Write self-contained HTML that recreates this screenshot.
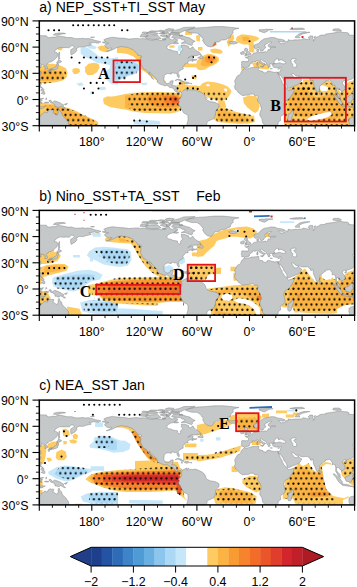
<!DOCTYPE html>
<html><head><meta charset="utf-8"><style>
html,body{margin:0;padding:0;background:#fff;}
body{width:357px;height:587px;overflow:hidden;}
svg{display:block;}
.ax{font-family:"Liberation Sans",sans-serif;font-size:12.4px;fill:#000;}
.tt{font-family:"Liberation Sans",sans-serif;font-size:14px;fill:#000;}
.cb{font-family:"Liberation Sans",sans-serif;font-size:12.4px;fill:#000;}
.lb{font-family:"Liberation Serif",serif;font-weight:bold;font-size:16px;fill:#000;}
</style></head><body>
<svg width="357" height="587" viewBox="0 0 357 587">
<defs><clipPath id="clip0"><rect x="39.3" y="20.9" width="315.3" height="104.8"/></clipPath><clipPath id="clip1"><rect x="39.3" y="210.4" width="315.3" height="104.8"/></clipPath><clipPath id="clip2"><rect x="39.3" y="400.1" width="315.3" height="104.8"/></clipPath><g id="land"><path d="M102.5,12.0L104.2,11.0L108.6,11.4L109.0,12.2L106.0,12.8L102.5,12.0ZM109.5,10.8L112.1,9.9L118.2,10.1L116.5,11.1L112.1,11.2L109.5,10.8ZM118.2,10.3L120.9,9.3L124.4,9.6L126.1,10.2L123.5,10.8L120.0,10.7L118.2,10.3ZM122.6,11.4L125.2,10.9L128.7,11.4L129.6,12.2L126.1,12.8L122.6,12.4L122.6,11.4ZM139.7,14.7L142.8,14.1L143.6,14.8L141.0,15.3L139.7,14.7ZM122.6,17.9L126.1,17.6L126.1,18.8L123.5,18.9L122.6,17.9ZM63.0,21.3L66.6,20.7L64.4,19.0L67.0,17.7L70.1,16.9L72.9,16.3L77.1,16.8L80.6,17.2L85.0,17.4L86.7,17.7L89.3,18.2L92.0,17.9L93.7,17.8L96.8,17.5L99.0,17.6L101.2,18.0L104.2,17.6L107.7,18.3L110.4,19.0L113.9,19.2L117.4,18.5L121.7,19.4L124.4,19.0L126.1,18.8L127.0,16.2L129.6,16.2L130.9,18.3L133.1,19.0L135.3,17.6L138.4,18.8L137.9,20.5L135.8,20.5L134.9,22.3L133.1,22.7L130.9,23.1L128.3,24.9L127.4,26.6L127.9,27.3L129.2,28.6L131.4,28.8L133.6,29.9L135.8,30.3L138.1,30.6L138.4,32.3L139.7,33.6L141.0,33.6L141.3,32.3L141.0,31.0L142.8,29.7L143.2,27.9L141.9,26.6L142.3,25.3L141.9,24.1L145.4,24.1L147.6,24.9L149.3,25.5L149.3,27.1L151.1,27.7L152.4,26.6L153.7,25.9L154.6,27.5L156.3,29.3L157.7,30.1L159.8,31.4L161.3,32.8L161.2,33.6L159.4,33.9L157.7,34.8L155.0,34.8L152.0,34.8L149.8,36.2L148.5,37.4L150.2,36.2L151.5,35.7L153.7,35.8L154.0,36.2L153.3,36.7L153.5,37.6L153.9,38.3L155.0,38.6L156.6,38.8L157.7,38.4L156.9,39.1L154.6,39.7L152.8,40.5L152.2,39.9L153.7,39.0L152.4,39.1L151.5,39.6L150.2,40.0L148.9,40.4L148.3,41.2L148.4,42.0L149.0,42.1L148.9,42.3L147.6,42.4L145.8,42.8L145.4,43.2L145.2,44.1L144.5,44.7L144.1,45.4L143.6,46.1L143.8,47.2L144.1,47.9L143.2,48.3L141.9,49.0L140.8,49.6L139.7,50.4L139.0,51.5L139.0,52.6L139.7,54.0L140.1,55.5L139.9,56.5L139.3,56.7L138.6,56.1L138.2,55.2L137.7,54.1L137.8,53.3L137.1,52.5L136.2,52.4L135.4,52.7L134.4,52.1L133.1,52.0L131.8,52.1L132.1,53.2L130.9,53.1L129.6,52.7L127.9,52.7L127.0,53.1L125.7,53.9L125.0,54.7L124.9,55.9L124.6,57.6L124.6,59.4L125.1,60.7L125.9,61.8L127.0,62.4L127.9,62.7L129.2,62.4L130.1,62.2L130.8,61.3L131.0,60.3L132.7,59.8L134.0,59.8L133.7,61.1L133.4,62.4L132.9,63.8L132.5,64.7L133.6,64.8L135.3,64.7L136.6,65.2L137.2,65.9L137.1,67.7L136.9,69.0L137.5,69.9L138.4,70.6L139.3,70.9L140.6,70.3L141.9,70.6L142.5,71.2L143.6,70.3L144.1,69.4L145.4,68.8L146.7,68.3L147.6,67.8L147.8,69.0L147.3,69.4L148.0,70.3L148.5,68.7L148.9,68.1L150.6,69.4L152.4,69.3L154.1,69.4L155.9,69.0L156.8,69.2L158.5,69.9L160.3,70.7L162.9,72.0L165.1,73.8L166.4,76.4L166.8,78.2L168.2,79.5L171.2,80.8L174.3,81.2L176.5,81.8L179.4,83.3L179.7,85.1L179.4,86.9L177.8,88.2L176.5,90.0L176.0,93.9L175.2,96.1L174.3,97.8L172.5,98.7L170.8,99.3L169.0,100.0L167.7,101.7L167.5,103.5L166.4,104.8L165.5,106.1L164.7,107.4L163.8,108.3L162.9,109.2L159.4,110.0L147.1,110.0L147.4,107.4L147.6,106.5L147.8,104.8L147.6,103.1L148.5,100.4L148.7,98.7L148.7,96.1L148.6,94.6L147.6,93.7L144.5,92.1L143.4,90.4L142.3,88.6L141.0,85.6L139.3,83.8L139.1,82.5L139.9,81.6L140.1,80.6L139.3,79.5L140.1,77.9L141.1,77.3L142.3,75.1L142.5,72.9L141.9,72.0L141.0,70.7L140.1,72.0L139.3,71.6L137.5,71.4L135.2,69.9L135.1,69.0L133.6,67.2L131.8,66.8L130.1,66.4L128.7,65.1L127.4,64.5L125.7,64.9L123.9,64.4L121.7,63.5L119.6,62.6L117.8,61.1L118.1,59.8L117.4,58.5L115.6,56.8L114.5,55.5L113.0,54.1L111.7,52.4L109.7,50.9L110.1,52.4L112.1,55.5L113.7,57.6L114.3,58.5L113.6,58.1L112.1,56.8L111.9,55.2L109.9,54.1L109.0,52.4L107.6,50.2L106.4,48.9L104.6,48.5L103.4,46.6L102.9,45.6L101.8,43.8L101.2,41.9L101.6,38.4L101.0,36.3L102.5,36.2L102.0,34.9L98.5,34.5L98.1,33.2L95.9,31.0L93.7,28.8L91.1,27.7L88.0,26.4L85.0,26.2L81.9,25.5L79.7,26.2L77.5,26.6L75.3,27.9L73.1,29.0L70.1,30.1L67.0,30.7L69.2,29.7L71.8,28.2L72.7,27.2L68.3,27.5L66.1,25.8L65.2,24.5L66.1,23.4L69.2,22.3L67.0,22.3L64.4,22.1L63.0,21.3ZM146.3,10.2L150.6,8.3L157.7,7.0L166.4,6.5L175.2,5.7L183.9,5.7L191.8,6.5L199.7,7.4L194.4,8.7L193.6,10.5L194.0,11.8L192.7,13.1L191.4,14.4L190.9,16.6L188.3,17.5L186.6,18.8L182.2,19.2L179.5,21.0L176.9,21.2L175.2,21.8L174.3,23.6L173.0,25.3L171.7,26.2L170.3,25.8L168.2,25.3L166.4,24.0L165.1,22.7L164.2,21.0L163.3,19.6L164.2,17.9L162.9,17.0L162.0,15.7L160.7,14.0L157.7,12.2L152.4,12.1L149.8,11.4L146.3,10.2ZM140.1,14.2L143.6,15.0L147.1,16.2L150.6,17.0L151.5,17.9L154.1,19.6L155.9,20.3L154.1,21.4L152.8,22.0L153.3,23.6L152.4,24.5L150.6,24.0L148.0,23.1L146.3,22.3L144.5,22.3L141.9,22.4L143.6,21.4L145.8,20.5L145.4,19.2L142.8,18.8L141.0,17.5L136.6,17.2L132.3,16.6L134.0,14.3L140.1,14.2ZM106.0,15.9L107.3,14.8L112.1,14.8L117.4,14.4L118.7,14.8L121.7,17.5L118.2,18.2L113.9,18.5L109.5,18.1L106.9,17.5L106.0,15.9ZM100.7,15.9L102.0,13.5L107.3,13.8L109.0,14.6L106.0,16.2L100.7,15.9ZM131.4,11.8L133.1,10.0L140.1,8.3L144.5,6.5L155.9,6.2L154.1,7.4L148.9,8.7L144.5,10.0L141.9,11.4L138.4,12.1L131.4,11.8ZM127.0,10.5L126.1,8.7L129.6,7.7L134.9,8.3L133.1,10.0L127.0,10.5ZM129.6,12.8L133.1,11.8L140.1,12.1L140.1,13.5L129.6,13.5L129.6,12.8ZM107.3,13.1L108.6,11.5L113.0,11.7L117.4,12.0L119.1,12.7L117.4,13.5L112.1,13.7L107.3,13.1ZM120.9,14.8L122.6,14.0L127.0,14.0L127.9,15.7L125.2,16.2L120.9,14.8ZM127.0,14.1L131.4,13.8L130.5,15.7L127.9,15.9L127.0,14.1ZM120.0,12.7L121.7,11.8L125.2,11.8L125.2,13.1L120.0,12.7ZM134.9,22.7L135.8,21.1L139.3,22.3L137.5,22.9L134.9,22.7ZM158.3,37.0L161.2,35.4L161.6,33.5L163.3,35.5L164.0,37.1L163.3,37.8L161.6,37.6L158.3,37.0ZM135.8,59.6L137.5,58.6L139.3,58.3L141.9,59.1L143.6,60.3L145.2,61.0L144.1,61.2L142.1,61.2L141.9,60.5L140.1,59.6L138.4,58.9L136.6,59.5L135.8,59.6ZM145.0,62.5L146.4,61.2L148.9,61.4L150.4,62.4L148.9,62.7L147.6,63.2L145.0,62.5ZM141.6,62.5L143.5,62.7L142.9,63.1L141.6,62.5ZM151.3,62.4L152.7,62.6L151.3,63.0ZM190.9,22.7L189.2,21.4L190.9,20.6L196.2,20.5L197.5,21.4L198.4,21.8L197.1,22.5L194.4,23.2L191.8,22.9L190.9,22.7ZM205.2,34.9L207.6,34.4L211.1,34.1L211.7,32.6L210.4,31.9L209.3,31.0L208.4,29.8L208.0,29.3L208.6,28.4L207.3,27.4L205.8,27.4L205.2,28.4L205.1,29.4L205.8,30.1L207.6,30.7L207.2,31.4L207.6,32.1L206.3,32.1L206.5,32.9L205.6,33.4L207.6,33.7L205.2,34.9ZM204.9,33.2L204.9,31.9L205.3,30.9L203.6,30.3L202.8,31.0L201.4,31.4L201.4,33.2L201.9,33.6L204.9,33.2ZM-112.9,46.3L-112.8,44.8L-113.4,44.1L-112.8,42.4L-113.2,41.0L-112.1,40.4L-109.5,40.6L-106.7,40.7L-106.2,39.7L-106.2,38.4L-107.0,37.4L-109.0,36.8L-109.2,36.2L-107.7,36.0L-106.5,36.2L-106.5,35.3L-105.1,35.5L-103.8,34.8L-102.9,34.0L-102.0,33.6L-101.6,33.2L-101.0,32.3L-100.3,32.0L-99.0,31.9L-97.7,31.8L-97.5,30.6L-98.0,29.3L-97.6,28.7L-95.9,28.2L-96.1,29.3L-95.6,29.7L-96.3,30.6L-95.5,31.4L-94.2,31.1L-92.8,31.4L-91.1,31.2L-88.9,30.7L-88.0,31.1L-86.7,30.1L-86.7,29.0L-85.8,28.4L-84.5,28.8L-83.8,28.1L-84.5,27.5L-84.5,26.9L-82.3,26.5L-80.6,26.6L-78.8,26.3L-80.6,25.8L-83.2,26.0L-85.4,26.2L-86.4,25.3L-86.3,24.0L-85.4,23.1L-83.2,21.8L-82.8,21.3L-84.1,21.1L-85.8,21.4L-86.7,22.3L-88.5,23.1L-89.8,24.0L-90.0,25.3L-88.6,26.2L-89.3,27.1L-90.6,28.4L-91.3,29.6L-92.7,30.2L-93.9,30.0L-94.2,29.3L-95.0,27.9L-95.5,27.1L-95.9,26.6L-96.8,27.1L-98.1,27.9L-99.4,27.9L-100.3,27.1L-100.7,25.8L-100.7,24.5L-99.8,24.0L-98.1,23.3L-96.3,22.7L-94.6,21.4L-93.7,20.1L-92.4,19.2L-91.1,18.3L-89.3,17.6L-87.6,17.5L-85.8,17.2L-84.1,16.6L-82.3,16.6L-80.6,16.6L-78.8,17.2L-77.9,17.6L-76.2,18.1L-73.6,18.3L-70.1,19.4L-69.2,20.5L-71.8,21.0L-74.9,20.7L-76.2,20.3L-74.6,22.3L-72.7,22.9L-71.8,22.3L-69.6,22.2L-68.3,20.5L-66.6,20.8L-66.4,18.8L-64.8,19.2L-63.1,19.5L-61.3,19.2L-58.7,18.9L-57.4,19.0L-55.2,18.8L-53.4,18.9L-52.1,18.3L-51.7,17.6L-49.0,18.1L-46.4,18.8L-44.7,18.5L-46.4,17.0L-46.0,16.2L-44.7,15.0L-42.0,15.0L-41.6,16.2L-42.0,17.5L-40.7,19.0L-41.6,20.3L-39.9,19.2L-39.9,17.9L-40.7,16.3L-39.4,15.3L-38.1,16.4L-35.9,15.5L-34.6,14.4L-31.5,14.1L-28.9,14.0L-28.9,13.1L-21.9,12.2L-17.5,11.4L-13.8,10.7L-12.3,11.4L-7.0,11.8L-5.7,12.7L-6.1,14.0L-1.8,14.4L2.6,14.8L7.0,14.8L7.9,16.2L9.6,16.8L13.1,16.2L16.6,16.2L18.4,15.0L22.8,15.5L26.3,16.2L28.0,16.7L32.4,16.6L35.0,17.5L37.7,17.8L41.2,17.6L43.8,17.4L45.5,17.9L49.0,17.6L52.6,18.4L56.1,19.6L58.7,20.1L60.4,20.5L61.6,20.9L60.4,21.4L59.1,22.3L56.9,22.0L55.2,21.6L53.4,21.8L51.7,22.3L49.9,22.1L51.2,23.6L52.1,24.0L48.2,24.9L46.0,25.5L44.2,26.2L40.3,26.2L38.5,26.4L37.9,27.5L36.8,27.9L37.7,29.3L36.8,30.6L35.0,32.3L33.7,32.8L32.1,34.1L31.5,32.8L31.3,30.6L31.5,28.8L33.3,27.9L35.0,26.2L34.2,24.9L32.0,24.9L29.8,26.9L27.2,26.6L24.5,26.8L21.9,26.7L20.3,26.7L18.4,27.5L15.9,29.3L14.9,31.0L16.6,31.3L18.1,32.2L18.7,33.2L18.0,34.9L17.8,36.2L16.2,37.6L14.0,39.7L11.4,41.2L10.4,41.0L9.4,41.7L8.6,42.8L7.0,43.7L6.6,44.2L7.9,45.9L8.2,47.2L7.9,47.9L6.6,48.3L5.5,48.4L5.7,47.2L6.0,45.9L4.8,45.4L4.4,44.1L3.8,43.8L1.8,44.5L1.1,44.7L1.9,43.2L0.9,42.9L-0.4,43.8L-1.8,44.4L-2.0,45.0L-1.1,45.9L-0.8,46.1L0.6,45.6L2.2,45.9L0.9,46.7L0.0,47.6L-0.7,48.5L0.3,49.8L1.3,50.7L1.7,51.6L1.3,52.4L1.8,52.8L1.1,54.1L0.0,55.5L-0.4,56.3L-1.3,57.2L-2.6,58.1L-4.4,58.7L-5.7,59.2L-7.9,59.8L-8.4,60.9L-8.9,59.8L-10.5,59.8L-11.8,61.1L-12.4,62.0L-11.7,63.3L-10.1,65.1L-9.4,67.2L-9.5,68.6L-10.9,69.4L-11.8,70.3L-13.1,71.1L-13.3,69.9L-14.9,69.0L-15.3,67.7L-16.6,67.5L-17.5,66.9L-18.2,69.0L-18.0,70.3L-17.3,71.6L-17.1,72.5L-16.2,72.7L-15.3,73.4L-14.5,74.7L-14.5,76.2L-13.8,77.4L-14.5,77.5L-16.2,76.2L-17.1,74.7L-17.3,73.5L-18.7,71.6L-19.0,70.3L-18.8,67.7L-19.5,64.6L-21.0,64.2L-22.5,64.6L-22.3,62.4L-23.6,60.7L-24.3,59.8L-24.7,58.9L-25.8,59.4L-27.2,59.6L-28.9,59.8L-29.3,61.1L-31.1,62.0L-32.8,63.8L-34.8,65.1L-34.9,67.2L-35.2,69.6L-36.5,70.9L-37.2,71.5L-38.1,70.7L-39.0,68.6L-39.8,66.4L-40.7,64.6L-41.3,62.0L-41.5,60.0L-41.6,59.1L-43.4,60.3L-44.7,59.1L-43.8,58.7L-45.1,58.1L-46.2,57.2L-46.9,56.4L-49.0,56.5L-51.2,56.6L-54.3,56.2L-54.9,55.5L-55.6,54.9L-57.8,55.3L-59.6,54.3L-60.9,52.8L-62.6,52.4L-63.1,52.8L-62.2,54.6L-61.2,55.7L-60.6,56.9L-60.0,57.4L-58.2,57.6L-56.5,56.3L-55.8,55.7L-55.7,56.9L-54.5,57.9L-52.7,58.9L-53.9,60.7L-54.5,62.0L-55.6,62.9L-56.9,63.8L-59.6,64.9L-62.2,65.9L-65.7,67.4L-67.0,67.5L-67.6,65.9L-67.9,64.2L-69.2,62.0L-70.9,59.8L-71.4,58.1L-72.7,56.3L-74.0,54.6L-74.6,53.4L-75.1,54.3L-75.8,53.7L-76.6,52.4L-76.8,51.4L-75.1,51.3L-74.4,50.0L-74.0,48.9L-73.7,47.6L-73.4,46.6L-74.9,46.5L-76.6,47.1L-78.4,46.9L-79.7,46.7L-81.0,46.3L-81.9,45.2L-81.9,44.1L-82.2,43.6L-81.5,43.1L-79.6,42.7L-77.9,42.7L-76.2,42.1L-74.4,41.9L-73.6,42.5L-71.8,42.9L-70.1,42.8L-68.8,42.4L-68.7,41.5L-70.1,40.6L-71.8,39.7L-72.7,39.1L-74.0,39.0L-75.8,39.7L-76.6,39.0L-75.8,38.4L-77.5,37.9L-78.4,38.0L-79.1,39.0L-80.1,40.2L-80.6,41.5L-79.8,42.5L-82.2,43.2L-84.1,43.1L-85.0,43.2L-85.3,43.3L-85.0,44.5L-84.1,45.2L-84.8,45.4L-85.4,46.7L-86.1,46.5L-86.5,45.4L-87.0,44.5L-88.0,43.2L-88.1,42.1L-88.9,41.5L-90.6,40.6L-92.0,39.7L-92.8,39.1L-93.2,38.7L-94.3,39.1L-94.2,40.2L-93.2,40.6L-92.0,41.9L-91.1,42.4L-89.3,43.1L-88.9,43.6L-90.0,43.3L-90.6,44.1L-90.1,44.5L-91.1,45.4L-91.3,45.4L-91.3,44.1L-92.0,43.5L-92.8,43.0L-94.2,42.4L-95.5,41.5L-95.9,40.4L-97.2,39.8L-98.5,40.3L-99.8,41.0L-101.2,40.6L-102.5,40.9L-102.3,41.9L-103.3,42.5L-104.4,43.0L-105.1,44.1L-105.4,45.0L-104.9,44.8L-105.7,45.8L-106.9,46.5L-109.0,46.5L-110.0,47.2L-110.6,46.6L-111.6,46.1L-112.9,46.3ZM202.4,46.3L202.5,44.8L201.9,44.1L202.5,42.4L202.1,41.0L203.2,40.4L205.8,40.6L208.6,40.7L209.1,39.7L209.1,38.4L208.3,37.4L206.3,36.8L206.1,36.2L207.6,36.0L208.8,36.2L208.8,35.3L210.2,35.5L211.5,34.8L212.4,34.0L213.3,33.6L213.7,33.2L214.3,32.3L215.0,32.0L216.3,31.9L217.6,31.8L217.8,30.6L217.3,29.3L217.7,28.7L219.4,28.2L219.2,29.3L219.7,29.7L219.0,30.6L219.8,31.4L221.1,31.1L222.5,31.4L224.2,31.2L226.4,30.7L227.3,31.1L228.6,30.1L228.6,29.0L229.5,28.4L230.8,28.8L231.5,28.1L230.8,27.5L230.8,26.9L233.0,26.5L234.7,26.6L236.5,26.3L234.7,25.8L232.1,26.0L229.9,26.2L228.9,25.3L229.0,24.0L229.9,23.1L232.1,21.8L232.5,21.3L231.2,21.1L229.5,21.4L228.6,22.3L226.8,23.1L225.5,24.0L225.3,25.3L226.7,26.2L226.0,27.1L224.7,28.4L224.0,29.6L222.6,30.2L221.4,30.0L221.1,29.3L220.3,27.9L219.8,27.1L219.4,26.6L218.5,27.1L217.2,27.9L215.9,27.9L215.0,27.1L214.6,25.8L214.6,24.5L215.5,24.0L217.2,23.3L219.0,22.7L220.7,21.4L221.6,20.1L222.9,19.2L224.2,18.3L226.0,17.6L227.7,17.5L229.5,17.2L231.2,16.6L233.0,16.6L234.7,16.6L236.5,17.2L237.4,17.6L239.1,18.1L241.7,18.3L245.2,19.4L246.1,20.5L243.5,21.0L240.4,20.7L239.1,20.3L240.7,22.3L242.6,22.9L243.5,22.3L245.7,22.2L247.0,20.5L248.7,20.8L248.9,18.8L250.5,19.2L252.2,19.5L254.0,19.2L256.6,18.9L257.9,19.0L260.1,18.8L261.9,18.9L263.2,18.3L263.6,17.6L266.3,18.1L268.9,18.8L270.6,18.5L268.9,17.0L269.3,16.2L270.6,15.0L273.3,15.0L273.7,16.2L273.3,17.5L274.6,19.0L273.7,20.3L275.4,19.2L275.4,17.9L274.6,16.3L275.9,15.3L277.2,16.4L279.4,15.5L280.7,14.4L283.8,14.1L286.4,14.0L286.4,13.1L293.4,12.2L297.8,11.4L301.5,10.7L303.0,11.4L308.3,11.8L309.6,12.7L309.2,14.0L313.5,14.4L317.9,14.8L322.3,14.8L323.2,16.2L324.9,16.8L328.4,16.2L331.9,16.2L333.7,15.0L338.1,15.5L341.6,16.2L343.3,16.7L347.7,16.6L350.3,17.5L353.0,17.8L356.5,17.6L359.1,17.4L360.8,17.9L364.3,17.6L367.9,18.4L371.4,19.6L374.0,20.1L375.7,20.5L376.9,20.9L375.7,21.4L374.4,22.3L372.2,22.0L370.5,21.6L368.7,21.8L367.0,22.3L365.2,22.1L366.5,23.6L367.4,24.0L363.5,24.9L361.3,25.5L359.5,26.2L355.6,26.2L353.8,26.4L353.2,27.5L352.1,27.9L353.0,29.3L352.1,30.6L350.3,32.3L349.0,32.8L347.4,34.1L346.8,32.8L346.6,30.6L346.8,28.8L348.6,27.9L350.3,26.2L349.5,24.9L347.3,24.9L345.1,26.9L342.5,26.6L339.8,26.8L337.2,26.7L335.6,26.7L333.7,27.5L331.2,29.3L330.2,31.0L331.9,31.3L333.4,32.2L334.0,33.2L333.3,34.9L333.1,36.2L331.5,37.6L329.3,39.7L326.7,41.2L325.7,41.0L324.7,41.7L323.9,42.8L322.3,43.7L321.9,44.2L323.2,45.9L323.5,47.2L323.2,47.9L321.9,48.3L320.8,48.4L321.0,47.2L321.3,45.9L320.1,45.4L319.7,44.1L319.1,43.8L317.1,44.5L316.4,44.7L317.2,43.2L316.2,42.9L314.9,43.8L313.5,44.4L313.3,45.0L314.2,45.9L314.5,46.1L315.9,45.6L317.5,45.9L316.2,46.7L315.3,47.6L314.6,48.5L315.6,49.8L316.6,50.7L317.0,51.6L316.6,52.4L317.1,52.8L316.4,54.1L315.3,55.5L314.9,56.3L314.0,57.2L312.7,58.1L310.9,58.7L309.6,59.2L307.4,59.8L306.9,60.9L306.4,59.8L304.8,59.8L303.5,61.1L302.9,62.0L303.6,63.3L305.2,65.1L305.9,67.2L305.8,68.6L304.4,69.4L303.5,70.3L302.2,71.1L302.0,69.9L300.4,69.0L300.0,67.7L298.7,67.5L297.8,66.9L297.1,69.0L297.3,70.3L298.0,71.6L298.2,72.5L299.1,72.7L300.0,73.4L300.8,74.7L300.8,76.2L301.5,77.4L300.8,77.5L299.1,76.2L298.2,74.7L298.0,73.5L296.6,71.6L296.3,70.3L296.5,67.7L295.8,64.6L294.3,64.2L292.8,64.6L293.0,62.4L291.7,60.7L291.0,59.8L290.6,58.9L289.5,59.4L288.1,59.6L286.4,59.8L286.0,61.1L284.2,62.0L282.5,63.8L280.5,65.1L280.4,67.2L280.1,69.6L278.8,70.9L278.1,71.5L277.2,70.7L276.3,68.6L275.5,66.4L274.6,64.6L274.0,62.0L273.8,60.0L273.7,59.1L271.9,60.3L270.6,59.1L271.5,58.7L270.2,58.1L269.1,57.2L268.4,56.4L266.3,56.5L264.1,56.6L261.0,56.2L260.4,55.5L259.7,54.9L257.5,55.3L255.7,54.3L254.4,52.8L252.7,52.4L252.2,52.8L253.1,54.6L254.1,55.7L254.7,56.9L255.3,57.4L257.1,57.6L258.8,56.3L259.5,55.7L259.6,56.9L260.8,57.9L262.6,58.9L261.4,60.7L260.8,62.0L259.7,62.9L258.4,63.8L255.7,64.9L253.1,65.9L249.6,67.4L248.3,67.5L247.7,65.9L247.4,64.2L246.1,62.0L244.4,59.8L243.9,58.1L242.6,56.3L241.3,54.6L240.7,53.4L240.2,54.3L239.5,53.7L238.7,52.4L238.5,51.4L240.2,51.3L240.9,50.0L241.3,48.9L241.6,47.6L241.9,46.6L240.4,46.5L238.7,47.1L236.9,46.9L235.6,46.7L234.3,46.3L233.4,45.2L233.4,44.1L233.1,43.6L233.8,43.1L235.7,42.7L237.4,42.7L239.1,42.1L240.9,41.9L241.7,42.5L243.5,42.9L245.2,42.8L246.5,42.4L246.6,41.5L245.2,40.6L243.5,39.7L242.6,39.1L241.3,39.0L239.5,39.7L238.7,39.0L239.5,38.4L237.8,37.9L236.9,38.0L236.2,39.0L235.2,40.2L234.7,41.5L235.5,42.5L233.1,43.2L231.2,43.1L230.3,43.2L230.0,43.3L230.3,44.5L231.2,45.2L230.5,45.4L229.9,46.7L229.2,46.5L228.8,45.4L228.3,44.5L227.3,43.2L227.2,42.1L226.4,41.5L224.7,40.6L223.3,39.7L222.5,39.1L222.1,38.7L221.0,39.1L221.1,40.2L222.1,40.6L223.3,41.9L224.2,42.4L226.0,43.1L226.4,43.6L225.3,43.3L224.7,44.1L225.2,44.5L224.2,45.4L224.0,45.4L224.0,44.1L223.3,43.5L222.5,43.0L221.1,42.4L219.8,41.5L219.4,40.4L218.1,39.8L216.8,40.3L215.5,41.0L214.1,40.6L212.8,40.9L213.0,41.9L212.0,42.5L210.9,43.0L210.2,44.1L209.9,45.0L210.4,44.8L209.6,45.8L208.4,46.5L206.3,46.5L205.3,47.2L204.7,46.6L203.7,46.1L202.4,46.3ZM238.7,52.4L238.8,52.5L239.5,54.1L240.0,55.2L240.9,57.2L241.7,58.9L242.8,60.3L242.9,62.0L243.9,63.1L244.6,64.8L246.1,66.2L247.4,67.2L248.1,67.8L247.9,68.6L249.2,69.5L250.5,69.3L252.2,68.8L255.0,68.3L254.9,69.5L254.4,70.7L253.6,72.5L252.2,74.7L250.5,76.9L248.3,79.0L247.0,79.5L245.7,80.8L244.8,82.5L244.2,84.3L244.8,85.6L245.2,87.8L245.7,89.5L245.7,91.7L244.4,93.4L242.2,95.0L240.9,96.1L241.3,97.8L241.3,99.6L239.1,100.9L238.9,102.2L238.7,103.5L237.8,104.4L236.9,105.7L235.6,107.0L233.8,108.3L227.7,109.2L226.0,108.3L226.0,107.0L225.5,104.8L224.7,103.5L223.5,102.2L222.9,99.6L222.8,98.2L221.8,96.5L220.5,94.3L220.5,93.0L221.1,90.4L222.2,88.2L221.8,86.5L221.0,83.8L220.7,83.0L219.8,81.9L218.5,80.3L218.1,79.0L218.5,77.7L218.8,76.2L218.5,75.1L217.9,74.7L216.3,74.8L215.3,74.8L214.6,73.8L214.1,73.1L212.4,73.1L211.1,73.4L209.3,74.2L208.4,74.4L206.7,74.1L203.6,74.8L202.3,74.2L200.6,72.9L199.3,72.0L198.6,71.2L198.4,70.3L197.1,69.2L195.7,68.1L195.5,66.8L194.9,65.8L195.7,64.6L196.0,62.9L195.7,61.6L195.3,60.3L195.9,58.9L196.6,57.6L197.5,55.9L198.6,54.5L200.1,54.0L201.4,52.8L201.7,51.5L202.8,49.6L204.2,48.9L204.9,47.3L205.8,47.8L208.4,47.9L210.2,47.3L212.0,46.7L214.6,46.5L216.8,46.3L219.0,46.0L219.8,46.3L219.4,47.2L219.8,47.9L219.0,48.7L219.8,49.5L221.6,50.0L223.5,50.4L223.8,51.5L226.0,52.0L227.7,51.5L227.7,50.5L229.0,50.0L230.3,50.1L232.1,50.8L233.8,51.2L235.6,51.6L237.4,51.1L238.5,51.4L238.7,52.4ZM253.4,89.1L254.4,92.1L253.8,93.4L252.7,96.1L251.8,99.6L251.4,100.4L249.6,100.9L248.7,100.0L248.3,97.8L249.0,96.1L248.7,93.4L250.9,92.4L252.2,90.8L253.4,89.1ZM280.1,73.2L280.8,73.4L281.8,72.2L281.4,71.2L280.4,70.0L280.0,71.6L280.1,73.2ZM9.5,48.9L10.5,49.1L13.1,48.4L13.6,49.3L14.7,48.7L16.5,48.4L17.3,48.0L18.2,47.4L18.4,45.9L18.8,45.2L19.3,44.1L18.7,42.4L17.5,43.0L17.4,44.1L17.1,45.0L16.2,45.9L14.9,46.3L14.5,46.7L14.0,47.4L11.8,47.6L10.1,48.4L9.5,48.9ZM8.6,49.3L9.8,49.1L10.4,49.8L10.0,51.2L9.3,51.5L8.9,50.2L8.6,49.3ZM10.9,49.8L11.8,49.4L12.9,49.1L12.5,48.6L11.4,48.8L10.9,49.8ZM17.5,42.4L18.6,42.1L20.3,41.9L22.3,40.8L21.9,40.2L19.3,38.9L18.8,39.9L18.7,40.8L17.9,40.8L17.5,41.5L17.5,42.4ZM19.3,38.4L20.6,37.7L20.1,35.8L20.3,34.5L20.1,33.2L20.3,31.3L19.8,31.2L19.4,33.2L19.1,34.9L19.3,37.1L19.2,38.4ZM0.2,58.9L0.9,59.5L1.7,57.2L1.3,56.5L0.4,57.2L0.1,58.5L0.2,58.9ZM305.4,61.8L307.0,61.0L307.4,61.5L306.5,62.6L305.7,62.4L305.4,61.8ZM0.4,62.4L2.0,62.4L1.8,63.8L1.4,64.8L1.9,66.4L3.5,67.2L3.1,67.4L1.3,66.5L0.5,66.1L0.0,64.6L0.4,62.4ZM315.7,62.4L317.3,62.4L317.1,63.8L316.7,64.8L317.2,66.4L318.8,67.2L318.4,67.4L316.6,66.5L315.8,66.1L315.3,64.6L315.7,62.4ZM1.8,72.5L3.1,71.6L4.8,70.3L5.7,72.0L5.3,73.4L4.6,73.5L3.5,72.9L1.8,72.5ZM1.8,68.6L3.9,67.7L4.8,69.0L4.4,69.9L2.6,70.5L1.8,69.4L1.8,68.6ZM312.8,71.3L314.9,68.6L315.0,69.4L313.1,71.4ZM305.7,77.1L306.5,77.1L307.4,76.2L309.2,75.8L310.0,74.6L311.4,73.8L312.5,72.5L313.3,73.4L314.4,74.2L313.5,74.8L313.4,76.9L314.4,77.7L313.1,78.6L312.5,79.9L312.0,81.7L310.5,82.1L309.2,81.4L307.9,81.2L306.7,81.1L306.5,79.9L305.7,78.6L305.7,77.1ZM293.7,73.7L295.6,74.1L298.0,76.4L300.8,78.6L301.7,80.2L303.0,81.5L302.9,83.7L301.7,83.8L299.8,82.1L298.2,79.9L296.6,77.2L295.2,75.7L293.7,73.7ZM302.3,84.5L303.5,83.8L305.1,84.1L307.0,84.3L308.7,84.6L310.5,85.4L310.4,86.2L307.4,85.8L304.8,85.4L303.0,85.1L302.3,84.5ZM-4.4,85.8L-0.9,85.8L1.8,85.8L4.4,85.8L6.1,85.8L4.4,86.7L3.5,87.5L1.8,87.8L-0.9,87.2L-2.6,86.5L-4.4,86.3L-4.4,85.8ZM310.9,85.8L314.4,85.8L317.1,85.8L319.7,85.8L321.4,85.8L319.7,86.7L318.8,87.5L317.1,87.8L314.4,87.2L312.7,86.5L310.9,86.3L310.9,85.8ZM-1.1,81.2L-0.4,83.4L0.4,83.5L0.7,81.0L2.2,82.8L2.6,82.1L1.3,79.9L3.1,79.3L2.2,78.9L0.4,78.2L4.4,77.3L3.9,77.9L0.0,78.0L-0.4,79.0L-1.1,81.2ZM314.2,81.2L314.9,83.4L315.7,83.5L316.0,81.0L317.5,82.8L317.9,82.1L316.6,79.9L318.4,79.3L317.5,78.9L315.7,78.2L319.7,77.3L319.2,77.9L315.3,78.0L314.9,79.0L314.2,81.2ZM6.6,79.0L7.4,78.2L7.0,76.9L6.6,77.3L6.6,79.0ZM5.3,81.5L7.0,81.1L9.6,81.5L8.8,81.9L5.3,81.8L5.3,81.5ZM9.6,79.7L11.4,79.2L13.1,81.5L15.3,79.9L18.4,80.9L21.9,82.5L22.8,83.4L24.1,83.8L24.1,85.6L26.3,87.6L24.5,87.5L23.2,86.3L21.0,85.4L20.1,86.5L18.4,86.5L17.1,85.8L15.8,85.9L15.6,83.8L13.1,82.4L11.8,82.1L10.5,81.0L9.6,79.7ZM25.0,83.4L26.3,83.0L28.0,82.3L27.6,83.4L26.3,84.1L25.0,83.4ZM-5.7,97.8L-5.1,97.6L-3.5,96.5L-0.9,96.1L0.9,95.6L2.0,93.4L3.1,93.0L4.4,91.7L5.7,90.8L7.0,91.7L8.3,91.5L8.8,90.0L9.6,89.3L11.0,88.6L11.8,89.1L14.0,89.1L14.7,89.3L13.6,91.5L14.5,92.1L16.8,93.8L18.2,93.9L18.9,91.7L18.8,89.5L19.7,87.9L20.6,90.4L22.2,91.7L22.8,93.9L24.1,95.5L25.4,96.9L27.0,98.2L27.6,99.6L28.9,100.9L29.4,103.5L28.9,105.7L28.5,107.0L27.6,108.3L26.3,110.0L-3.5,110.0L-4.4,108.3L-3.9,107.7L-4.4,106.1L-4.5,104.4L-5.7,101.7L-5.7,100.0L-5.4,98.7L-5.7,97.8ZM309.6,97.8L310.2,97.6L311.8,96.5L314.4,96.1L316.2,95.6L317.3,93.4L318.4,93.0L319.7,91.7L321.0,90.8L322.3,91.7L323.6,91.5L324.1,90.0L324.9,89.3L326.3,88.6L327.1,89.1L329.3,89.1L330.0,89.3L328.9,91.5L329.8,92.1L332.1,93.8L333.5,93.9L334.2,91.7L334.1,89.5L335.0,87.9L335.9,90.4L337.5,91.7L338.1,93.9L339.4,95.5L340.7,96.9L342.3,98.2L342.9,99.6L344.2,100.9L344.7,103.5L344.2,105.7L343.8,107.0L342.9,108.3L341.6,110.0L311.8,110.0L310.9,108.3L311.4,107.7L310.9,106.1L310.8,104.4L309.6,101.7L309.6,100.0L309.9,98.7L309.6,97.8ZM219.8,10.0L223.3,11.4L225.1,11.8L227.7,10.5L229.5,9.2L233.8,8.7L227.7,8.3L225.1,8.7L219.8,8.9L219.8,10.0ZM255.7,16.3L256.6,16.8L260.6,16.9L259.7,15.7L260.6,14.4L263.2,13.1L266.3,12.4L270.6,11.4L268.9,11.3L264.5,11.5L261.0,12.4L258.8,13.5L257.5,14.8L256.2,15.7L255.7,16.3ZM250.5,8.3L254.0,8.8L261.0,8.7L265.4,8.3L262.8,7.2L255.7,7.4L250.5,8.3ZM293.4,9.6L297.8,10.3L302.2,9.6L299.5,7.9L294.3,8.0L293.4,9.6ZM14.0,14.0L17.5,14.4L22.8,13.1L26.3,12.8L24.5,12.2L19.3,12.1L15.8,12.7L14.0,14.0ZM51.2,16.4L53.4,16.7L55.2,16.2L52.6,16.1L51.2,16.4ZM221.1,45.5L223.9,45.2L223.4,46.5L221.1,45.5ZM217.6,44.5L218.6,44.5L218.8,42.8L217.4,42.8L217.6,44.5ZM217.7,42.4L218.4,42.4L218.5,41.0L217.7,41.5ZM230.8,47.8L233.2,47.8L233.0,48.0L230.9,47.9ZM238.5,48.3L240.5,47.5L239.9,48.0L238.5,48.3Z" fill="#c4c8c9" stroke="#7d8080" stroke-width="0.45" stroke-linejoin="round"/><path d="M251.4,38.9L253.1,38.0L255.3,37.6L256.6,38.0L256.6,39.3L254.9,39.7L254.4,40.2L255.7,41.9L256.6,42.8L257.5,43.7L257.1,44.5L257.5,45.9L255.7,46.5L254.0,46.0L253.1,45.0L253.6,43.4L252.2,41.9L251.8,41.0L251.8,39.7L251.4,38.9Z" fill="#fff" stroke="#7d8080" stroke-width="0.45"/></g><pattern id="dots0" patternUnits="userSpaceOnUse" x="297.17" y="85.96" width="5.12" height="10.54"><circle cx="1.280" cy="2.635" r="1.1" fill="#000"/><circle cx="3.840" cy="7.905" r="1.1" fill="#000"/></pattern><pattern id="dots1" patternUnits="userSpaceOnUse" x="113.02" y="286.23" width="5.12" height="10.5"><circle cx="1.280" cy="2.625" r="1.1" fill="#000"/><circle cx="3.840" cy="7.875" r="1.1" fill="#000"/></pattern><pattern id="dots2" patternUnits="userSpaceOnUse" x="126.30" y="470.70" width="5.18" height="10.4"><circle cx="1.295" cy="2.600" r="1.1" fill="#000"/><circle cx="3.885" cy="7.800" r="1.1" fill="#000"/></pattern></defs>
<g clip-path="url(#clip0)">
<path d="M38.0,68.3L42.5,66.1L48.1,63.8L53.7,63.8L60.4,65.6L66.0,68.3L67.6,72.8L66.5,77.7L62.6,80.6L55.9,82.2L48.1,82.9L41.4,83.3L38.0,82.9Z" fill="#fecb62"/>
<path d="M38.0,71.0L44.7,70.1L53.7,70.5L61.5,71.7L64.4,75.0L61.5,79.1L53.7,80.6L44.7,81.3L38.0,80.6Z" fill="#fbb443"/>
<path d="M72.7,68.7L76.1,67.9L79.5,68.7L80.1,71.7L77.2,73.9L73.9,73.9L72.3,71.7Z" fill="#fecb62"/>
<path d="M85.1,67.2L88.4,63.8L94.0,62.7L98.5,63.8L99.6,67.2L97.4,71.7L92.9,75.0L87.3,75.0L85.1,71.7Z" fill="#fecb62"/>
<path d="M57.0,47.0L60.4,45.4L63.1,47.0L61.5,50.4L58.2,49.9Z" fill="#fecb62"/>
<path d="M97.4,47.0L101.9,45.4L107.5,47.0L109.7,50.4L105.2,52.2L99.6,50.4Z" fill="#fecb62"/>
<path d="M103.0,98.6L107.5,96.3L114.2,97.0L118.0,97.4L118.0,103.0L111.9,103.7L105.2,102.4Z" fill="#fecb62"/>
<path d="M38.0,103.7L42.5,102.4L51.4,103.7L60.4,105.9L69.4,108.2L77.2,111.5L85.1,116.0L94.0,119.4L98.1,122.1L99.0,128.8L38.0,128.8Z" fill="#fecb62"/>
<path d="M44.7,105.3L53.7,105.3L62.6,107.5L71.6,110.9L80.6,114.2L88.4,117.6L94.0,121.0L95.1,128.8L60.4,128.8Z" fill="#fbb443"/>
<path d="M80.6,48.1L86.2,47.0L91.8,50.4L98.5,56.0L105.2,58.2L111.9,58.2L118.0,57.1L118.0,63.8L109.7,64.9L103.0,63.8L96.3,62.7L90.7,59.3L85.1,57.1L80.6,53.7Z" fill="#c6e7f9"/>
<path d="M105.2,71.7L109.7,68.3L118.0,66.5L118.0,84.4L111.9,84.4L106.3,79.5Z" fill="#c6e7f9"/>
<path d="M86.2,45.4L91.8,44.8L96.7,47.0L95.1,49.3L89.5,48.6Z" fill="#c6e7f9"/>
<path d="M76.1,83.5L81.7,82.6L83.9,85.1L79.5,86.2Z" fill="#c6e7f9"/>
<path d="M90.0,91.8L93.6,91.2L94.0,94.1L90.7,94.5Z" fill="#c6e7f9"/>
<path d="M98.5,87.3L105.2,86.7L106.3,89.6L100.7,90.3Z" fill="#c6e7f9"/>
<path d="M116.9,53.1L120.0,53.1L126.7,53.7L133.5,56.4L136.8,59.8L139.3,65.6L141.8,69.9L146.9,73.2L151.8,76.6L156.1,80.0L160.4,83.3L163.7,84.9L166.2,81.7L160.6,77.3L153.9,72.8L148.3,68.7L144.9,63.8L142.6,58.2L139.3,52.6L134.8,47.7L128.1,45.4L116.9,44.8Z" fill="#fecb62"/>
<path d="M141.5,82.9L147.1,82.4L146.7,85.1L142.2,85.3Z" fill="#c6e7f9"/>
<path d="M133.7,120.3L144.9,119.8L159.5,121.0L160.6,124.3L144.9,124.8L133.7,123.9Z" fill="#c6e7f9"/>
<path d="M178.5,63.8L198.0,63.4L198.0,67.2L185.2,67.2L179.6,66.5Z" fill="#fecb62"/>
<path d="M178.5,81.7L185.2,81.7L185.2,86.2L179.0,85.8Z" fill="#fecb62"/>
<path d="M185.2,32.0L191.9,32.0L191.9,35.1L185.2,35.1Z" fill="#fecb62"/>
<path d="M110.0,61.0L122.0,59.8L130.0,60.2L136.0,61.5L139.5,64.0L139.5,70.0L135.0,74.0L128.0,76.0L121.0,79.5L117.0,81.5L110.0,81.5Z" fill="#c6e7f9"/>
<path d="M114.4,62.0L120.0,60.8L128.0,61.0L134.0,62.5L138.5,65.0L138.5,70.0L135.0,73.5L130.0,75.0L124.0,77.0L119.0,79.5L114.4,79.5Z" fill="#abd8f4"/>
<path d="M103.0,99.5L110.0,97.0L118.0,95.5L125.0,94.0L133.0,92.8L145.0,92.2L160.0,92.0L172.0,92.5L180.0,93.0L183.0,96.0L183.0,104.0L181.0,108.0L178.0,112.0L170.0,113.5L160.0,113.2L145.0,113.0L133.0,111.5L125.0,109.5L118.0,108.5L110.0,107.0L104.0,104.0Z" fill="#fecb62"/>
<path d="M125.0,95.5L140.0,94.0L160.0,93.5L175.0,94.0L181.0,97.0L181.0,106.0L175.0,110.0L160.0,111.0L140.0,110.5L125.0,108.0Z" fill="#fbb443"/>
<path d="M150.0,95.0L165.0,94.5L178.0,95.5L181.0,100.0L179.0,106.0L170.0,107.5L158.0,107.0L150.0,104.0L146.0,99.0Z" fill="#f99b33"/>
<path d="M163.0,96.0L175.0,96.0L180.0,99.0L178.0,104.0L170.0,105.0L164.0,102.0Z" fill="#f7832c"/>
<path d="M170.4,96.8L176.0,96.5L179.5,99.0L178.8,103.5L173.0,103.5L170.5,100.5Z" fill="#f16d28"/>
<path d="M173.0,97.6L177.0,97.4L178.5,99.5L177.1,101.5L173.5,101.2Z" fill="#ea552a"/>
<path d="M211.4,41.4L215.9,40.3L216.4,44.8L212.6,47.0Z" fill="#f16d28"/>
<path d="M198.0,47.0L202.5,47.0L202.5,50.4L198.0,50.4Z" fill="#fecb62"/>
<path d="M249.0,47.5L253.5,47.5L253.5,52.0L249.0,52.0Z" fill="#fecb62"/>
<path d="M241.2,67.0L243.8,66.8L243.8,70.2L241.2,70.2Z" fill="#fecb62"/>
<path d="M251.8,62.7L258.5,62.0L265.2,63.8L269.7,66.1L268.6,69.4L260.7,68.7L254.0,67.2Z" fill="#fecb62"/>
<path d="M242.8,97.4L249.5,95.6L256.3,96.3L259.0,100.8L259.6,106.4L258.1,110.9L255.1,113.1L251.8,110.9L247.3,107.5L243.9,103.0Z" fill="#fecb62"/>
<path d="M198.0,33.6L204.7,33.6L204.7,36.9L198.0,36.9Z" fill="#c6e7f9"/>
<path d="M196.8,61.0L199.4,58.4L203.6,55.5L207.8,53.8L212.0,54.2L215.3,55.5L218.7,57.6L219.1,60.5L217.0,63.1L213.6,65.2L209.4,66.8L205.2,69.4L201.0,70.2L197.7,69.4L196.0,66.8Z" fill="#fecb62"/>
<path d="M210.3,49.2L215.3,48.4L220.4,49.6L222.9,51.7L221.2,53.8L217.0,53.4L212.8,53.0L210.7,51.7Z" fill="#fecb62"/>
<path d="M203.0,58.0L207.0,55.5L212.0,55.5L216.5,57.5L217.5,60.5L214.0,63.5L209.0,65.5L204.0,66.5L200.5,64.5Z" fill="#fbb443"/>
<path d="M205.2,57.6L209.4,55.1L214.5,56.8L216.2,59.3L212.8,61.8L208.6,63.5L205.2,61.8Z" fill="#f99b33"/>
<path d="M207.8,59.3L211.1,57.6L214.1,58.9L212.4,61.0L209.4,61.4Z" fill="#f7832c"/>
<path d="M202.0,83.4L207.1,81.4L213.0,82.1L218.0,83.1L223.9,84.8L228.1,86.8L231.5,91.0L229.8,95.2L226.4,99.4L222.2,101.1L215.5,100.3L208.8,97.7L203.7,95.2L198.7,92.7L197.0,90.2Z" fill="#fecb62"/>
<path d="M218.0,101.1L224.7,101.1L226.4,107.8L218.8,107.8Z" fill="#fecb62"/>
<path d="M213.8,107.8L220.5,107.0L227.3,108.7L234.0,111.2L240.7,112.9L247.4,114.5L254.1,116.2L255.0,122.1L247.4,123.8L237.3,123.8L227.3,122.9L217.2,122.1L213.0,118.7L212.1,112.0Z" fill="#fecb62"/>
<path d="M217.0,110.0L224.0,110.0L232.0,113.0L240.0,115.5L248.0,118.0L250.0,121.5L240.0,122.5L228.0,121.5L218.0,120.0Z" fill="#fbb443"/>
<path d="M236.8,36.8L241.8,34.3L246.8,34.8L251.9,35.5L256.9,36.8L259.5,38.5L256.1,41.0L253.6,41.8L254.4,51.9L251.9,52.8L249.4,48.6L248.5,44.4L243.5,44.4L238.4,42.7L235.9,40.2Z" fill="#fecb62"/>
<path d="M226.7,41.8L230.0,35.1L233.4,34.3L234.2,38.5L231.7,43.5L228.4,46.9Z" fill="#fecb62"/>
<path d="M242.0,37.0L247.0,36.5L250.0,38.0L248.0,41.0L243.0,41.0Z" fill="#fbb443"/>
<path d="M291.3,27.6L293.0,27.6L293.0,29.0L291.3,29.0Z" fill="#d02a2a"/>
<path d="M176.5,85.0L181.0,84.0L185.0,85.0L190.0,85.5L196.0,85.5L201.0,86.5L205.0,88.5L208.0,91.0L203.0,92.0L197.0,90.5L190.0,90.0L183.0,91.0L177.0,91.0Z" fill="#fecb62"/>
<path d="M191.5,75.5L195.0,75.0L197.0,77.0L196.0,79.5L192.0,79.0Z" fill="#fecb62"/>
<path d="M169.4,45.5L174.5,45.2L174.5,47.7L169.4,47.7Z" fill="#fecb62"/>
<path d="M196.0,35.5L200.0,35.0L200.0,41.5L196.5,41.0Z" fill="#fecb62"/>
<path d="M177.8,45.5L181.2,45.2L181.2,51.0L178.0,51.0Z" fill="#c6e7f9"/>
<path d="M303.0,79.5L314.0,79.5L319.0,95.0L312.0,97.0L303.0,92.0Z" fill="#fecb62"/>
<path d="M318.0,82.0L330.0,81.0L334.0,86.0L330.0,93.0L319.0,95.0Z" fill="#fecb62"/>
<path d="M270.0,31.1L306.0,31.1L306.0,32.6L270.0,32.6Z" fill="#abd8f4"/>
<path d="M284.8,108.6L284.8,92.9L290.4,87.3L294.9,84.0L299.4,81.7L306.1,82.9L310.6,84.0L312.9,90.7L316.2,92.9L319.6,86.2L322.9,81.7L328.5,80.6L334.1,84.0L337.5,88.5L340.9,92.9L344.2,86.2L348.7,81.7L357.0,79.5L357.0,128.8L283.7,128.8Z" fill="#fecb62"/>
<path d="M288.2,104.2L290.4,95.2L297.2,88.5L306.1,87.3L311.7,95.2L317.3,97.4L326.3,95.2L335.3,92.9L342.0,99.7L346.5,107.5L344.2,115.4L333.0,119.8L321.8,121.0L310.6,117.6L299.4,116.5L290.4,113.1Z" fill="#fbb443"/>
<path d="M296.7,106.8L300.5,105.9L302.1,109.1L299.0,110.9Z" fill="#f99b33"/>
<path d="M301.5,36.0L303.5,36.0L303.5,38.0L301.5,38.0Z" fill="#d02a2a"/>
<path d="M39.1,70.1L47.0,68.7L55.9,69.4L64.9,70.5L66.7,75.0L63.8,79.5L55.9,81.7L47.0,83.5L39.1,83.5Z" fill="url(#dots0)"/>
<path d="M44.7,105.3L60.4,105.9L71.6,109.8L82.8,114.2L91.8,118.7L96.7,123.2L97.4,128.8L60.4,128.8L44.7,113.1Z" fill="url(#dots0)"/>
<path d="M119.5,61.0L129.5,61.0L138.0,66.0L136.0,75.0L127.0,76.5L126.0,80.0L117.0,80.0L115.0,70.0L116.0,64.0Z" fill="url(#dots0)"/>
<path d="M128.0,95.0L140.0,92.5L180.0,92.5L183.0,97.0L181.0,111.0L160.0,112.0L135.0,111.0L128.0,108.0Z" fill="url(#dots0)"/>
<path d="M203.7,91.8L213.8,91.0L225.6,93.5L227.3,99.4L222.2,101.9L210.4,100.3L204.6,96.9Z" fill="url(#dots0)"/>
<path d="M215.0,107.5L220.5,106.5L227.3,108.2L234.0,110.8L240.7,112.5L247.4,114.0L254.1,115.8L255.0,122.1L247.4,123.8L227.3,123.0L217.2,122.1L213.5,112.0Z" fill="url(#dots0)"/>
<path d="M301.0,82.0L316.0,82.0L319.0,95.0L301.0,95.0Z" fill="url(#dots0)"/>
<path d="M284.8,108.6L287.1,92.9L292.7,87.3L299.4,82.9L310.6,84.4L314.0,92.9L321.8,84.0L330.8,82.9L337.5,89.6L344.2,86.2L350.9,82.9L357.0,81.7L357.0,115.4L348.7,124.3L344.2,128.8L284.8,128.8Z" fill="url(#dots0)"/>
<path d="M206.0,84.5L209.0,83.8L210.0,86.0L207.0,86.5Z" fill="#ffffff"/>
<path d="M224.0,88.5L227.0,88.8L227.0,91.5L224.5,91.0Z" fill="#ffffff"/>
<path d="M317.3,86.2L321.8,85.1L328.1,87.3L327.4,90.7L321.8,91.2Z" fill="#ffffff"/>
<path d="M306.8,119.3L311.8,116.0L318.6,114.3L325.3,112.6L330.3,112.1L332.0,114.3L328.7,116.8L323.6,118.5L316.9,119.8L310.2,121.0Z" fill="#ffffff"/>
<path d="M72.13,25.3a1.05,1.05 0 1,0 2.1,0a1.05,1.05 0 1,0 -2.1,0M77.06,25.3a1.05,1.05 0 1,0 2.1,0a1.05,1.05 0 1,0 -2.1,0M81.99,25.3a1.05,1.05 0 1,0 2.1,0a1.05,1.05 0 1,0 -2.1,0M87.37,25.3a1.05,1.05 0 1,0 2.1,0a1.05,1.05 0 1,0 -2.1,0M92.75,25.3a1.05,1.05 0 1,0 2.1,0a1.05,1.05 0 1,0 -2.1,0M97.68,25.3a1.05,1.05 0 1,0 2.1,0a1.05,1.05 0 1,0 -2.1,0M103.28,25.3a1.05,1.05 0 1,0 2.1,0a1.05,1.05 0 1,0 -2.1,0M108.21,25.3a1.05,1.05 0 1,0 2.1,0a1.05,1.05 0 1,0 -2.1,0M113.14,25.3a1.05,1.05 0 1,0 2.1,0a1.05,1.05 0 1,0 -2.1,0M47.48,30.2a1.05,1.05 0 1,0 2.1,0a1.05,1.05 0 1,0 -2.1,0M53.08,30.2a1.05,1.05 0 1,0 2.1,0a1.05,1.05 0 1,0 -2.1,0M58.01,30.2a1.05,1.05 0 1,0 2.1,0a1.05,1.05 0 1,0 -2.1,0M70.56,57.5a1.05,1.05 0 1,0 2.1,0a1.05,1.05 0 1,0 -2.1,0M82.89,57.5a1.05,1.05 0 1,0 2.1,0a1.05,1.05 0 1,0 -2.1,0M89.61,57.5a1.05,1.05 0 1,0 2.1,0a1.05,1.05 0 1,0 -2.1,0M95.21,57.5a1.05,1.05 0 1,0 2.1,0a1.05,1.05 0 1,0 -2.1,0M100.82,57.5a1.05,1.05 0 1,0 2.1,0a1.05,1.05 0 1,0 -2.1,0M106.42,57.5a1.05,1.05 0 1,0 2.1,0a1.05,1.05 0 1,0 -2.1,0M78.41,62.7a1.05,1.05 0 1,0 2.1,0a1.05,1.05 0 1,0 -2.1,0M104.18,62.7a1.05,1.05 0 1,0 2.1,0a1.05,1.05 0 1,0 -2.1,0M89.61,82.9a1.05,1.05 0 1,0 2.1,0a1.05,1.05 0 1,0 -2.1,0M95.66,82.9a1.05,1.05 0 1,0 2.1,0a1.05,1.05 0 1,0 -2.1,0M101.94,82.9a1.05,1.05 0 1,0 2.1,0a1.05,1.05 0 1,0 -2.1,0M97.45,88.5a1.05,1.05 0 1,0 2.1,0a1.05,1.05 0 1,0 -2.1,0M91.85,92.9a1.05,1.05 0 1,0 2.1,0a1.05,1.05 0 1,0 -2.1,0M82.89,88.5a1.05,1.05 0 1,0 2.1,0a1.05,1.05 0 1,0 -2.1,0M120.98,30.2a1.05,1.05 0 1,0 2.1,0a1.05,1.05 0 1,0 -2.1,0M126.36,30.2a1.05,1.05 0 1,0 2.1,0a1.05,1.05 0 1,0 -2.1,0M192.02,57.1a1.05,1.05 0 1,0 2.1,0a1.05,1.05 0 1,0 -2.1,0M194.26,76.1a1.05,1.05 0 1,0 2.1,0a1.05,1.05 0 1,0 -2.1,0M184.18,79.5a1.05,1.05 0 1,0 2.1,0a1.05,1.05 0 1,0 -2.1,0M133.15,120.6a1.05,1.05 0 1,0 2.1,0a1.05,1.05 0 1,0 -2.1,0M138.75,120.6a1.05,1.05 0 1,0 2.1,0a1.05,1.05 0 1,0 -2.1,0M145.75,121.5a1.05,1.05 0 1,0 2.1,0a1.05,1.05 0 1,0 -2.1,0M207.95,57.4a1.05,1.05 0 1,0 2.1,0a1.05,1.05 0 1,0 -2.1,0M213.05,57.6a1.05,1.05 0 1,0 2.1,0a1.05,1.05 0 1,0 -2.1,0M210.45,62.2a1.05,1.05 0 1,0 2.1,0a1.05,1.05 0 1,0 -2.1,0M248.45,41.2a1.05,1.05 0 1,0 2.1,0a1.05,1.05 0 1,0 -2.1,0M186.55,88.4a1.05,1.05 0 1,0 2.1,0a1.05,1.05 0 1,0 -2.1,0M192.05,88.4a1.05,1.05 0 1,0 2.1,0a1.05,1.05 0 1,0 -2.1,0M196.65,88.9a1.05,1.05 0 1,0 2.1,0a1.05,1.05 0 1,0 -2.1,0M176.45,88.4a1.05,1.05 0 1,0 2.1,0a1.05,1.05 0 1,0 -2.1,0M178.95,83.4a1.05,1.05 0 1,0 2.1,0a1.05,1.05 0 1,0 -2.1,0M192.05,77.9a1.05,1.05 0 1,0 2.1,0a1.05,1.05 0 1,0 -2.1,0" fill="#000"/>
<use href="#land" transform="translate(39.3,20.9)"/>
</g>
<rect x="39.3" y="20.9" width="315.3" height="104.8" fill="none" stroke="#000" stroke-width="1.5"/>
<rect x="113.5" y="60.4" width="26.5" height="21.7" fill="none" stroke="#e3151b" stroke-width="1.8"/>
<rect x="284.8" y="77.8" width="61.1" height="43.7" fill="none" stroke="#e3151b" stroke-width="1.8"/>
<text x="97.9" y="79.2" class="lb">A</text>
<text x="270.2" y="111.1" class="lb">B</text>
<line x1="32.5" y1="20.9" x2="39.3" y2="20.9" stroke="#000" stroke-width="1.1"/>
<line x1="35.9" y1="27.4" x2="39.3" y2="27.4" stroke="#000" stroke-width="0.9"/>
<line x1="35.9" y1="34.0" x2="39.3" y2="34.0" stroke="#000" stroke-width="0.9"/>
<line x1="35.9" y1="40.5" x2="39.3" y2="40.5" stroke="#000" stroke-width="0.9"/>
<line x1="32.5" y1="47.1" x2="39.3" y2="47.1" stroke="#000" stroke-width="1.1"/>
<line x1="35.9" y1="53.6" x2="39.3" y2="53.6" stroke="#000" stroke-width="0.9"/>
<line x1="35.9" y1="60.2" x2="39.3" y2="60.2" stroke="#000" stroke-width="0.9"/>
<line x1="35.9" y1="66.8" x2="39.3" y2="66.8" stroke="#000" stroke-width="0.9"/>
<line x1="32.5" y1="73.3" x2="39.3" y2="73.3" stroke="#000" stroke-width="1.1"/>
<line x1="35.9" y1="79.8" x2="39.3" y2="79.8" stroke="#000" stroke-width="0.9"/>
<line x1="35.9" y1="86.4" x2="39.3" y2="86.4" stroke="#000" stroke-width="0.9"/>
<line x1="35.9" y1="92.9" x2="39.3" y2="92.9" stroke="#000" stroke-width="0.9"/>
<line x1="32.5" y1="99.5" x2="39.3" y2="99.5" stroke="#000" stroke-width="1.1"/>
<line x1="35.9" y1="106.0" x2="39.3" y2="106.0" stroke="#000" stroke-width="0.9"/>
<line x1="35.9" y1="112.6" x2="39.3" y2="112.6" stroke="#000" stroke-width="0.9"/>
<line x1="35.9" y1="119.2" x2="39.3" y2="119.2" stroke="#000" stroke-width="0.9"/>
<line x1="32.5" y1="125.7" x2="39.3" y2="125.7" stroke="#000" stroke-width="1.1"/>
<line x1="39.3" y1="125.7" x2="39.3" y2="131.6" stroke="#000" stroke-width="1.1"/>
<line x1="52.4" y1="125.7" x2="52.4" y2="128.6" stroke="#000" stroke-width="0.9"/>
<line x1="65.6" y1="125.7" x2="65.6" y2="128.6" stroke="#000" stroke-width="0.9"/>
<line x1="78.7" y1="125.7" x2="78.7" y2="128.6" stroke="#000" stroke-width="0.9"/>
<line x1="91.8" y1="125.7" x2="91.8" y2="131.6" stroke="#000" stroke-width="1.1"/>
<line x1="105.0" y1="125.7" x2="105.0" y2="128.6" stroke="#000" stroke-width="0.9"/>
<line x1="118.1" y1="125.7" x2="118.1" y2="128.6" stroke="#000" stroke-width="0.9"/>
<line x1="131.3" y1="125.7" x2="131.3" y2="128.6" stroke="#000" stroke-width="0.9"/>
<line x1="144.4" y1="125.7" x2="144.4" y2="131.6" stroke="#000" stroke-width="1.1"/>
<line x1="157.5" y1="125.7" x2="157.5" y2="128.6" stroke="#000" stroke-width="0.9"/>
<line x1="170.7" y1="125.7" x2="170.7" y2="128.6" stroke="#000" stroke-width="0.9"/>
<line x1="183.8" y1="125.7" x2="183.8" y2="128.6" stroke="#000" stroke-width="0.9"/>
<line x1="196.9" y1="125.7" x2="196.9" y2="131.6" stroke="#000" stroke-width="1.1"/>
<line x1="210.1" y1="125.7" x2="210.1" y2="128.6" stroke="#000" stroke-width="0.9"/>
<line x1="223.2" y1="125.7" x2="223.2" y2="128.6" stroke="#000" stroke-width="0.9"/>
<line x1="236.4" y1="125.7" x2="236.4" y2="128.6" stroke="#000" stroke-width="0.9"/>
<line x1="249.5" y1="125.7" x2="249.5" y2="131.6" stroke="#000" stroke-width="1.1"/>
<line x1="262.6" y1="125.7" x2="262.6" y2="128.6" stroke="#000" stroke-width="0.9"/>
<line x1="275.8" y1="125.7" x2="275.8" y2="128.6" stroke="#000" stroke-width="0.9"/>
<line x1="288.9" y1="125.7" x2="288.9" y2="128.6" stroke="#000" stroke-width="0.9"/>
<line x1="302.1" y1="125.7" x2="302.1" y2="131.6" stroke="#000" stroke-width="1.1"/>
<line x1="315.2" y1="125.7" x2="315.2" y2="128.6" stroke="#000" stroke-width="0.9"/>
<line x1="328.3" y1="125.7" x2="328.3" y2="128.6" stroke="#000" stroke-width="0.9"/>
<line x1="341.5" y1="125.7" x2="341.5" y2="128.6" stroke="#000" stroke-width="0.9"/>
<line x1="354.6" y1="125.7" x2="354.6" y2="131.6" stroke="#000" stroke-width="1.1"/>
<text x="28.6" y="26.1" text-anchor="end" class="ax">90°N</text>
<text x="28.6" y="52.3" text-anchor="end" class="ax">60°N</text>
<text x="28.6" y="78.5" text-anchor="end" class="ax">30°N</text>
<text x="28.6" y="104.7" text-anchor="end" class="ax">0°</text>
<text x="28.6" y="130.9" text-anchor="end" class="ax">30°S</text>
<text x="91.8" y="146.3" text-anchor="middle" class="ax">180°</text>
<text x="144.4" y="146.3" text-anchor="middle" class="ax">120°W</text>
<text x="196.9" y="146.3" text-anchor="middle" class="ax">60°W</text>
<text x="249.5" y="146.3" text-anchor="middle" class="ax">0°</text>
<text x="302.1" y="146.3" text-anchor="middle" class="ax">60°E</text>
<text x="39.3" y="11.8" class="tt">a) NEP_SST+TI_SST May</text>
<g clip-path="url(#clip1)">
<path d="M38.0,253.9L44.7,252.4L51.4,251.2L58.2,252.4L60.9,255.7L57.7,260.7L51.4,262.9L44.7,264.0L38.0,264.0Z" fill="#fecb62"/>
<path d="M47.0,247.2L53.7,246.5L54.1,251.7L48.1,251.7Z" fill="#fecb62"/>
<path d="M40.2,267.4L47.0,265.1L55.9,264.0L64.9,264.0L68.7,266.7L66.5,270.7L58.2,273.0L49.2,275.2L42.5,277.5L39.1,275.2Z" fill="#fecb62"/>
<path d="M44.7,266.7L53.7,265.6L63.8,265.6L66.0,268.1L59.3,270.7L49.2,272.5L43.6,273.4Z" fill="#fbb443"/>
<path d="M38.0,273.0L41.4,273.0L41.4,284.2L38.0,284.2Z" fill="#fecb62"/>
<path d="M91.8,233.1L100.7,233.1L100.7,236.7L92.9,236.7Z" fill="#c6e7f9"/>
<path d="M80.1,302.6L89.5,299.9L100.7,300.3L118.0,298.8L118.0,313.8L105.2,314.2L94.0,313.8L82.4,311.5Z" fill="#c6e7f9"/>
<path d="M89.5,303.2L105.2,301.7L118.0,301.0L118.0,312.2L103.0,312.2L91.8,310.0Z" fill="#abd8f4"/>
<path d="M38.0,290.9L47.0,290.9L50.3,297.6L49.2,306.6L42.5,307.7L38.0,306.6Z" fill="#fecb62"/>
<path d="M67.1,306.6L79.5,308.8L82.8,316.9L67.1,316.9Z" fill="#fecb62"/>
<path d="M74.5,213.8L75.6,213.8L75.6,214.9L74.5,214.9Z" fill="#d02a2a"/>
<path d="M83.5,212.0L84.6,212.0L84.6,213.2L83.5,213.2Z" fill="#d02a2a"/>
<path d="M83.5,219.7L84.6,219.7L84.6,220.8L83.5,220.8Z" fill="#d02a2a"/>
<path d="M86.8,255.2L89.0,251.5L95.2,247.6L103.6,246.8L113.7,247.6L120.4,248.5L127.0,249.0L131.0,252.0L131.5,260.0L128.0,265.5L120.4,266.9L112.0,266.1L103.6,264.4L95.2,260.2L90.2,258.5Z" fill="#c6e7f9"/>
<path d="M100.0,250.0L110.0,249.0L120.0,250.0L127.0,251.0L129.5,256.0L127.0,263.5L118.0,264.0L108.0,261.0L102.0,256.0Z" fill="#abd8f4"/>
<path d="M73.0,255.0L80.0,255.0L80.0,257.5L73.0,257.5Z" fill="#c6e7f9"/>
<path d="M90.0,258.5L93.0,258.5L93.0,261.5L90.0,261.5Z" fill="#c6e7f9"/>
<path d="M105.0,238.5L112.0,236.0L120.0,236.5L130.0,237.0L130.0,243.5L120.0,243.0L110.0,242.0L105.0,241.0Z" fill="#fecb62"/>
<path d="M118.0,238.0L130.0,238.0L130.0,242.0L120.0,241.5Z" fill="#fbb443"/>
<path d="M52.7,277.6L65.5,273.7L77.2,270.8L89.0,269.8L96.8,271.8L102.7,274.7L100.0,279.6L91.0,281.6L85.1,285.5L81.2,289.4L73.3,291.4L61.5,289.4L53.7,286.5L52.0,282.5Z" fill="#c6e7f9"/>
<path d="M56.0,278.0L66.0,276.0L78.0,274.5L88.0,274.0L95.0,275.5L92.0,279.5L84.0,282.5L80.0,287.0L73.0,289.5L62.0,288.0L56.0,285.0Z" fill="#abd8f4"/>
<path d="M116.0,238.4L123.0,238.6L128.1,241.1L132.3,245.3L135.6,250.4L138.2,255.4L141.5,260.5L144.9,265.5L148.3,268.9L151.6,272.2L156.7,275.6L161.7,278.1L166.0,276.0L162.0,272.0L158.0,269.0L154.0,265.0L150.0,261.0L146.0,256.0L143.0,251.0L140.0,245.0L136.0,239.0L131.0,234.0L125.0,231.0L116.0,231.0Z" fill="#fecb62"/>
<path d="M116.9,308.2L131.4,308.8L147.1,310.0L162.8,311.1L162.8,315.1L116.9,315.1Z" fill="#c6e7f9"/>
<path d="M177.4,257.7L184.8,257.7L184.8,262.9L177.4,262.9Z" fill="#c6e7f9"/>
<path d="M189.3,265.1L198.0,264.5L198.0,280.2L189.3,280.2Z" fill="#fecb62"/>
<path d="M151.6,208.0L198.0,208.0L198.0,211.4L151.6,211.4Z" fill="#fecb62"/>
<path d="M191.9,252.4L198.0,252.4L198.0,256.2L191.9,256.2Z" fill="#fecb62"/>
<path d="M88.0,285.0L95.0,284.0L104.0,281.5L110.0,280.0L118.0,278.5L146.0,277.5L174.0,276.5L182.0,277.0L184.0,290.0L184.0,306.0L174.0,306.0L146.0,305.5L118.0,303.5L104.0,301.0L99.0,296.0L92.0,295.0L88.0,294.5Z" fill="#fecb62"/>
<path d="M96.0,284.5L108.0,282.0L118.0,280.8L146.0,279.5L178.0,278.5L182.0,281.0L182.0,301.0L146.0,302.0L118.0,300.8L104.0,298.5L99.0,295.0L96.0,294.5Z" fill="#f99b33"/>
<path d="M96.2,284.8L180.2,284.8L180.2,294.0L96.2,294.0Z" fill="#f7832c"/>
<path d="M108.0,285.0L180.2,285.0L180.2,294.0L108.0,294.0Z" fill="#f16d28"/>
<path d="M196.9,241.6L204.7,239.4L211.4,239.4L216.4,241.6L214.1,246.1L209.7,249.5L206.3,252.8L202.9,256.2L196.9,256.9Z" fill="#fecb62"/>
<path d="M265.2,232.6L269.7,232.6L269.7,237.1L265.2,237.1Z" fill="#fecb62"/>
<path d="M254.0,215.4L269.7,214.9L269.7,216.7L254.0,217.2Z" fill="#2e6cb8"/>
<path d="M230.5,266.7L236.5,266.7L236.5,271.2L230.5,271.2Z" fill="#fecb62"/>
<path d="M233.4,273.0L237.9,273.0L237.9,280.8L233.4,280.8Z" fill="#fecb62"/>
<path d="M207.0,288.7L215.9,287.6L224.9,286.4L233.9,285.3L240.6,284.9L249.5,284.2L258.5,285.3L264.1,289.8L265.2,296.5L263.4,303.2L265.2,311.1L267.5,317.8L211.4,317.8L210.3,306.6L208.1,297.6Z" fill="#fecb62"/>
<path d="M211.4,292.0L224.9,289.8L238.3,288.7L251.8,288.2L260.7,291.4L263.0,298.8L258.5,303.2L249.5,297.6L240.6,293.2L231.6,292.0L220.4,294.3L215.9,302.1L218.2,311.1L231.6,313.3L249.5,314.4L251.8,317.8L215.9,317.8L213.7,306.6Z" fill="#fbb443"/>
<path d="M256.7,295.8L260.7,295.4L261.9,299.9L257.4,300.3Z" fill="#f7832c"/>
<path d="M205.0,240.2L210.0,236.8L215.1,233.5L221.8,230.5L230.2,228.4L238.6,227.1L247.0,226.4L253.7,228.4L257.1,231.8L255.4,235.2L250.4,238.5L243.7,237.7L236.9,236.8L230.2,236.8L225.2,238.5L218.4,240.2L213.4,242.7L210.0,246.1L206.7,248.6L203.3,248.6Z" fill="#fecb62"/>
<path d="M249.0,210.5L252.0,210.5L252.0,212.5L249.0,212.5Z" fill="#d02a2a"/>
<path d="M280.0,221.3L294.0,221.3L294.0,222.9L280.0,222.9Z" fill="#c6e7f9"/>
<path d="M270.5,215.6L272.6,215.6L272.6,217.4L270.5,217.4Z" fill="#d02a2a"/>
<path d="M304.0,217.6L305.6,217.6L305.6,219.0L304.0,219.0Z" fill="#2e6cb8"/>
<path d="M286.0,284.2L290.4,279.7L297.2,275.2L301.6,270.7L305.0,268.5L308.4,273.0L312.9,279.7L316.2,281.9L320.7,275.2L325.2,273.0L330.8,275.2L336.4,281.9L342.0,277.5L346.5,273.0L350.9,270.7L357.0,269.6L357.0,307.7L350.9,309.3L344.2,311.5L333.0,313.8L321.8,313.8L310.6,313.3L299.4,312.2L290.4,312.9L283.7,313.8L281.5,306.6L283.7,293.2Z" fill="#fecb62"/>
<path d="M288.2,293.2L292.7,284.2L299.4,277.5L308.4,279.7L315.1,285.3L326.3,281.9L335.3,285.3L342.0,281.9L350.9,275.2L357.0,275.2L357.0,302.1L344.2,306.6L333.0,310.0L317.3,310.0L303.9,308.8L292.7,306.6L289.3,302.1Z" fill="#fbb443"/>
<path d="M188.0,265.3L214.6,265.3L214.6,280.6L188.0,280.6Z" fill="#fecb62"/>
<path d="M215.0,268.0L221.0,267.5L221.0,274.0L215.0,274.0Z" fill="#fecb62"/>
<path d="M297.0,295.0L301.0,294.0L302.0,297.0L298.0,298.0Z" fill="#f99b33"/>
<path d="M178.5,260.5L183.0,259.5L185.0,262.0L182.0,264.5L178.5,263.5Z" fill="#c6e7f9"/>
<path d="M164.0,267.0L169.0,265.0L173.5,267.5L172.0,272.5L166.0,273.5L163.5,270.5Z" fill="#c6e7f9"/>
<path d="M82.8,302.1L96.3,300.3L118.0,299.4L118.0,313.3L96.3,313.3L83.9,310.6Z" fill="url(#dots1)"/>
<path d="M38.0,291.4L47.0,291.4L49.7,297.6L48.8,305.5L38.0,306.6Z" fill="url(#dots1)"/>
<path d="M94.0,250.0L105.0,248.5L120.0,249.5L127.0,250.5L130.0,256.0L127.0,264.0L115.0,264.5L106.0,261.0L98.0,255.0Z" fill="url(#dots1)"/>
<path d="M56.0,277.0L75.0,276.0L93.0,276.5L95.0,279.5L85.0,283.0L82.0,287.5L75.0,290.0L57.0,288.5L54.0,283.0Z" fill="url(#dots1)"/>
<path d="M116.0,238.4L123.0,238.6L128.1,241.1L132.3,245.3L135.6,250.4L138.2,255.4L141.5,260.5L144.9,265.5L148.3,268.9L151.6,272.2L156.7,275.6L161.7,278.1L166.0,276.0L162.0,272.0L158.0,269.0L154.0,265.0L150.0,261.0L146.0,256.0L143.0,251.0L140.0,245.0L136.0,239.0L131.0,234.0L125.0,231.0L116.0,231.0Z" fill="url(#dots1)"/>
<path d="M189.3,265.1L198.0,264.5L198.0,280.2L189.3,280.2Z" fill="url(#dots1)"/>
<path d="M92.0,285.0L104.0,281.5L118.0,277.5L146.0,276.5L182.0,276.0L184.0,306.0L99.0,302.0L92.0,296.0Z" fill="url(#dots1)"/>
<path d="M207.0,289.8L224.9,286.9L240.6,285.3L258.5,286.0L264.1,290.5L264.8,302.1L265.2,317.8L211.4,317.8L209.2,302.1Z" fill="url(#dots1)"/>
<path d="M284.8,293.2L288.2,281.9L297.2,275.2L303.9,269.6L310.6,275.2L315.1,281.9L321.8,276.3L333.0,279.7L344.2,275.2L357.0,270.7L357.0,306.6L344.2,311.1L321.8,313.3L299.4,312.2L286.0,312.9Z" fill="url(#dots1)"/>
<path d="M188.0,265.3L214.6,265.3L214.6,275.0L210.0,274.0L206.0,280.6L188.0,280.6Z" fill="url(#dots1)"/>
<path d="M157.2,303.2L169.5,301.7L183.0,302.1L184.1,308.4L171.8,308.4L158.3,307.9Z" fill="#ffffff"/>
<path d="M221.8,295.2L226.8,293.5L231.9,294.9L232.7,298.6L228.5,301.1L223.5,300.3L221.5,297.7Z" fill="#ffffff"/>
<path d="M233.6,300.3L238.6,298.2L245.3,298.9L251.2,301.1L256.3,304.5L259.6,307.8L260.5,316.0L257.1,316.0L253.7,308.7L248.7,305.3L243.7,303.6L237.8,302.8Z" fill="#ffffff"/>
<path d="M232.0,231.0L236.0,229.5L240.0,230.5L238.0,233.0L233.0,233.0Z" fill="#ffffff"/>
<path d="M306.1,269.0L310.6,269.0L314.0,275.2L309.5,275.2Z" fill="#ffffff"/>
<path d="M205.5,280.6L208.0,275.0L212.0,273.8L214.6,275.0L214.6,280.6Z" fill="#ffffff"/>
<path d="M321.5,272.5L326.0,270.0L331.0,271.0L333.5,275.0L331.0,279.5L326.0,280.0L322.0,278.0Z" fill="#ffffff"/>
<path d="M280.0,307.0L293.0,308.0L296.0,316.0L280.0,316.0Z" fill="#ffffff"/>
<path d="M337.0,309.0L345.0,305.0L357.0,304.0L357.0,316.0L337.0,316.0Z" fill="#ffffff"/>
<path d="M47.03,261.8a1.05,1.05 0 1,0 2.1,0a1.05,1.05 0 1,0 -2.1,0M51.52,261.8a1.05,1.05 0 1,0 2.1,0a1.05,1.05 0 1,0 -2.1,0M48.15,268.1a1.05,1.05 0 1,0 2.1,0a1.05,1.05 0 1,0 -2.1,0M53.08,268.1a1.05,1.05 0 1,0 2.1,0a1.05,1.05 0 1,0 -2.1,0M58.24,268.1a1.05,1.05 0 1,0 2.1,0a1.05,1.05 0 1,0 -2.1,0M63.39,268.1a1.05,1.05 0 1,0 2.1,0a1.05,1.05 0 1,0 -2.1,0M41.88,273.4a1.05,1.05 0 1,0 2.1,0a1.05,1.05 0 1,0 -2.1,0M47.03,273.4a1.05,1.05 0 1,0 2.1,0a1.05,1.05 0 1,0 -2.1,0M89.61,214.7a1.05,1.05 0 1,0 2.1,0a1.05,1.05 0 1,0 -2.1,0M94.77,214.7a1.05,1.05 0 1,0 2.1,0a1.05,1.05 0 1,0 -2.1,0M99.92,214.7a1.05,1.05 0 1,0 2.1,0a1.05,1.05 0 1,0 -2.1,0M105.07,214.7a1.05,1.05 0 1,0 2.1,0a1.05,1.05 0 1,0 -2.1,0M161.77,208.0a1.05,1.05 0 1,0 2.1,0a1.05,1.05 0 1,0 -2.1,0M167.37,208.0a1.05,1.05 0 1,0 2.1,0a1.05,1.05 0 1,0 -2.1,0M172.97,208.0a1.05,1.05 0 1,0 2.1,0a1.05,1.05 0 1,0 -2.1,0M178.57,208.0a1.05,1.05 0 1,0 2.1,0a1.05,1.05 0 1,0 -2.1,0M184.18,208.0a1.05,1.05 0 1,0 2.1,0a1.05,1.05 0 1,0 -2.1,0M189.78,208.0a1.05,1.05 0 1,0 2.1,0a1.05,1.05 0 1,0 -2.1,0M195.38,208.0a1.05,1.05 0 1,0 2.1,0a1.05,1.05 0 1,0 -2.1,0M228.35,236.0a1.05,1.05 0 1,0 2.1,0a1.05,1.05 0 1,0 -2.1,0M236.75,231.0a1.05,1.05 0 1,0 2.1,0a1.05,1.05 0 1,0 -2.1,0M243.45,231.8a1.05,1.05 0 1,0 2.1,0a1.05,1.05 0 1,0 -2.1,0M245.15,236.5a1.05,1.05 0 1,0 2.1,0a1.05,1.05 0 1,0 -2.1,0M252.65,231.0a1.05,1.05 0 1,0 2.1,0a1.05,1.05 0 1,0 -2.1,0" fill="#000"/>
<use href="#land" transform="translate(39.3,210.4)"/>
</g>
<rect x="39.3" y="210.4" width="315.3" height="104.8" fill="none" stroke="#000" stroke-width="1.5"/>
<rect x="96.2" y="284.8" width="84.0" height="9.2" fill="none" stroke="#e3151b" stroke-width="1.8"/>
<rect x="187.7" y="264.7" width="27.4" height="16.4" fill="none" stroke="#e3151b" stroke-width="1.8"/>
<text x="79.8" y="296.9" class="lb">C</text>
<text x="172.9" y="280.2" class="lb">D</text>
<line x1="32.5" y1="210.4" x2="39.3" y2="210.4" stroke="#000" stroke-width="1.1"/>
<line x1="35.9" y1="217.0" x2="39.3" y2="217.0" stroke="#000" stroke-width="0.9"/>
<line x1="35.9" y1="223.5" x2="39.3" y2="223.5" stroke="#000" stroke-width="0.9"/>
<line x1="35.9" y1="230.1" x2="39.3" y2="230.1" stroke="#000" stroke-width="0.9"/>
<line x1="32.5" y1="236.6" x2="39.3" y2="236.6" stroke="#000" stroke-width="1.1"/>
<line x1="35.9" y1="243.2" x2="39.3" y2="243.2" stroke="#000" stroke-width="0.9"/>
<line x1="35.9" y1="249.7" x2="39.3" y2="249.7" stroke="#000" stroke-width="0.9"/>
<line x1="35.9" y1="256.2" x2="39.3" y2="256.2" stroke="#000" stroke-width="0.9"/>
<line x1="32.5" y1="262.8" x2="39.3" y2="262.8" stroke="#000" stroke-width="1.1"/>
<line x1="35.9" y1="269.4" x2="39.3" y2="269.4" stroke="#000" stroke-width="0.9"/>
<line x1="35.9" y1="275.9" x2="39.3" y2="275.9" stroke="#000" stroke-width="0.9"/>
<line x1="35.9" y1="282.4" x2="39.3" y2="282.4" stroke="#000" stroke-width="0.9"/>
<line x1="32.5" y1="289.0" x2="39.3" y2="289.0" stroke="#000" stroke-width="1.1"/>
<line x1="35.9" y1="295.6" x2="39.3" y2="295.6" stroke="#000" stroke-width="0.9"/>
<line x1="35.9" y1="302.1" x2="39.3" y2="302.1" stroke="#000" stroke-width="0.9"/>
<line x1="35.9" y1="308.6" x2="39.3" y2="308.6" stroke="#000" stroke-width="0.9"/>
<line x1="32.5" y1="315.2" x2="39.3" y2="315.2" stroke="#000" stroke-width="1.1"/>
<line x1="39.3" y1="315.2" x2="39.3" y2="321.1" stroke="#000" stroke-width="1.1"/>
<line x1="52.4" y1="315.2" x2="52.4" y2="318.1" stroke="#000" stroke-width="0.9"/>
<line x1="65.6" y1="315.2" x2="65.6" y2="318.1" stroke="#000" stroke-width="0.9"/>
<line x1="78.7" y1="315.2" x2="78.7" y2="318.1" stroke="#000" stroke-width="0.9"/>
<line x1="91.8" y1="315.2" x2="91.8" y2="321.1" stroke="#000" stroke-width="1.1"/>
<line x1="105.0" y1="315.2" x2="105.0" y2="318.1" stroke="#000" stroke-width="0.9"/>
<line x1="118.1" y1="315.2" x2="118.1" y2="318.1" stroke="#000" stroke-width="0.9"/>
<line x1="131.3" y1="315.2" x2="131.3" y2="318.1" stroke="#000" stroke-width="0.9"/>
<line x1="144.4" y1="315.2" x2="144.4" y2="321.1" stroke="#000" stroke-width="1.1"/>
<line x1="157.5" y1="315.2" x2="157.5" y2="318.1" stroke="#000" stroke-width="0.9"/>
<line x1="170.7" y1="315.2" x2="170.7" y2="318.1" stroke="#000" stroke-width="0.9"/>
<line x1="183.8" y1="315.2" x2="183.8" y2="318.1" stroke="#000" stroke-width="0.9"/>
<line x1="196.9" y1="315.2" x2="196.9" y2="321.1" stroke="#000" stroke-width="1.1"/>
<line x1="210.1" y1="315.2" x2="210.1" y2="318.1" stroke="#000" stroke-width="0.9"/>
<line x1="223.2" y1="315.2" x2="223.2" y2="318.1" stroke="#000" stroke-width="0.9"/>
<line x1="236.4" y1="315.2" x2="236.4" y2="318.1" stroke="#000" stroke-width="0.9"/>
<line x1="249.5" y1="315.2" x2="249.5" y2="321.1" stroke="#000" stroke-width="1.1"/>
<line x1="262.6" y1="315.2" x2="262.6" y2="318.1" stroke="#000" stroke-width="0.9"/>
<line x1="275.8" y1="315.2" x2="275.8" y2="318.1" stroke="#000" stroke-width="0.9"/>
<line x1="288.9" y1="315.2" x2="288.9" y2="318.1" stroke="#000" stroke-width="0.9"/>
<line x1="302.1" y1="315.2" x2="302.1" y2="321.1" stroke="#000" stroke-width="1.1"/>
<line x1="315.2" y1="315.2" x2="315.2" y2="318.1" stroke="#000" stroke-width="0.9"/>
<line x1="328.3" y1="315.2" x2="328.3" y2="318.1" stroke="#000" stroke-width="0.9"/>
<line x1="341.5" y1="315.2" x2="341.5" y2="318.1" stroke="#000" stroke-width="0.9"/>
<line x1="354.6" y1="315.2" x2="354.6" y2="321.1" stroke="#000" stroke-width="1.1"/>
<text x="28.6" y="215.6" text-anchor="end" class="ax">90°N</text>
<text x="28.6" y="241.8" text-anchor="end" class="ax">60°N</text>
<text x="28.6" y="268.0" text-anchor="end" class="ax">30°N</text>
<text x="28.6" y="294.2" text-anchor="end" class="ax">0°</text>
<text x="28.6" y="320.4" text-anchor="end" class="ax">30°S</text>
<text x="91.8" y="335.8" text-anchor="middle" class="ax">180°</text>
<text x="144.4" y="335.8" text-anchor="middle" class="ax">120°W</text>
<text x="196.9" y="335.8" text-anchor="middle" class="ax">60°W</text>
<text x="249.5" y="335.8" text-anchor="middle" class="ax">0°</text>
<text x="302.1" y="335.8" text-anchor="middle" class="ax">60°E</text>
<text x="39.3" y="201.1" class="tt">b) Nino_SST+TA_SST</text>
<text x="196.3" y="201.1" class="tt">Feb</text>
<g clip-path="url(#clip2)">
<path d="M95.1,422.6L103.0,422.6L103.0,427.1L95.1,427.1Z" fill="#c6e7f9"/>
<path d="M90.7,466.3L104.1,466.3L104.1,470.8L90.7,470.8Z" fill="#c6e7f9"/>
<path d="M80.6,496.6L87.3,493.2L98.5,491.7L111.9,492.1L118.0,492.1L118.0,503.8L105.2,504.9L91.8,503.8L82.8,501.5Z" fill="#c6e7f9"/>
<path d="M88.4,494.8L105.2,493.9L118.0,493.9L118.0,502.2L100.7,502.9L90.7,500.6Z" fill="#abd8f4"/>
<path d="M75.0,503.8L81.7,503.8L81.7,506.9L75.0,506.9Z" fill="#fecb62"/>
<path d="M38.0,478.7L42.5,478.7L42.5,487.6L38.0,487.6Z" fill="#fecb62"/>
<path d="M74.5,411.0L75.6,411.0L75.6,412.1L74.5,412.1Z" fill="#d02a2a"/>
<path d="M62.4,429.2L65.7,428.4L69.1,430.9L69.9,435.1L66.6,436.8L63.2,436.0Z" fill="#fecb62"/>
<path d="M72.5,435.1L75.8,433.4L78.3,436.0L76.7,439.3L73.3,438.8Z" fill="#fecb62"/>
<path d="M69.1,440.2L73.3,439.3L77.5,441.0L75.8,443.5L70.8,443.2Z" fill="#fecb62"/>
<path d="M63.2,441.0L66.6,441.0L66.9,443.9L63.5,444.4Z" fill="#fecb62"/>
<path d="M48.1,443.5L53.1,441.5L58.2,441.8L59.0,445.2L54.8,448.6L49.8,449.4L47.2,446.9Z" fill="#fecb62"/>
<path d="M38.0,445.0L44.7,445.2L46.4,450.3L45.6,456.1L43.9,463.7L38.0,465.4Z" fill="#fecb62"/>
<path d="M56.5,451.9L61.5,449.6L65.7,451.6L66.9,457.0L64.1,460.3L58.2,460.3L55.6,457.8Z" fill="#fecb62"/>
<path d="M46.4,457.8L50.6,457.8L52.3,460.3L48.1,462.0Z" fill="#fecb62"/>
<path d="M94.3,437.6L101.8,435.4L110.3,436.4L117.0,439.3L123.7,441.8L130.4,444.3L129.6,448.5L122.0,451.9L113.6,452.7L105.2,450.2L96.8,448.5L90.1,447.7L89.2,445.2L93.4,441.8Z" fill="#c6e7f9"/>
<path d="M97.0,438.5L104.0,437.0L111.0,438.0L117.0,441.0L122.0,444.0L126.0,446.5L120.0,449.5L112.0,450.0L104.0,448.0L97.0,446.0Z" fill="#abd8f4"/>
<path d="M48.0,472.0L56.8,467.0L65.2,465.4L73.6,466.2L82.0,467.9L90.4,468.7L92.1,471.2L87.1,473.8L80.3,476.3L73.6,479.5L68.0,481.5L62.0,480.5L56.0,478.5L51.8,476.0L49.0,474.5Z" fill="#c6e7f9"/>
<path d="M58.0,469.0L65.0,467.0L74.0,467.5L82.0,469.0L88.0,470.5L86.0,473.0L79.0,475.5L72.0,478.0L65.0,479.0L59.0,477.0L54.0,474.0Z" fill="#abd8f4"/>
<path d="M38.0,483.0L42.5,483.0L42.5,488.0L38.0,488.0Z" fill="#fecb62"/>
<path d="M38.0,490.0L42.5,490.0L42.5,494.0L38.0,494.0Z" fill="#fecb62"/>
<path d="M116.0,427.6L123.0,427.8L128.1,429.4L133.1,433.6L134.8,438.7L137.3,443.7L140.7,448.8L144.1,453.8L147.4,458.0L151.6,461.4L156.7,464.2L161.7,466.4L166.0,464.0L161.0,461.0L156.0,457.5L151.0,453.0L147.0,448.0L143.0,442.0L140.0,436.0L137.0,430.0L132.0,425.0L125.0,422.0L116.0,422.0Z" fill="#fecb62"/>
<path d="M131.0,432.0L133.5,436.0L135.8,440.5L138.5,445.0L141.8,449.8L145.0,454.5L148.5,458.3L152.5,461.3L157.0,463.5L160.0,462.0L155.0,458.0L150.0,453.0L146.0,447.0L142.0,441.0L139.0,436.0L135.0,431.0Z" fill="#f99b33"/>
<path d="M116.9,441.0L124.7,440.6L130.3,443.9L129.2,449.5L122.5,452.2L116.9,451.8Z" fill="#c6e7f9"/>
<path d="M129.2,500.0L144.9,500.0L162.8,500.6L162.8,503.8L144.9,504.2L129.2,503.3Z" fill="#c6e7f9"/>
<path d="M183.0,452.9L198.0,452.9L198.0,460.3L183.0,460.3Z" fill="#fecb62"/>
<path d="M184.8,443.5L196.4,443.5L196.4,447.3L184.8,447.3Z" fill="#fecb62"/>
<path d="M135.0,461.0L150.0,460.5L165.0,461.0L178.0,462.0L180.0,468.0L135.0,470.0Z" fill="#fecb62"/>
<path d="M85.4,479.3L89.2,475.4L95.4,473.1L103.1,471.6L110.8,470.8L118.5,470.0L126.2,469.6L135.0,469.2L150.4,467.7L165.8,466.9L178.1,466.9L183.0,470.0L184.0,490.0L184.3,497.0L187.4,501.0L179.7,495.0L175.0,490.5L165.8,491.3L150.4,492.1L135.0,492.1L126.2,492.1L118.5,491.3L110.8,489.8L103.1,487.5L95.4,484.4L89.2,482.1Z" fill="#fecb62"/>
<path d="M89.0,478.0L93.9,474.2L103.1,472.6L118.5,471.2L135.0,470.6L165.0,468.6L179.0,468.6L182.0,490.0L176.0,489.5L165.0,490.0L135.0,490.8L118.5,490.0L103.1,486.4L93.9,483.0Z" fill="#fbb443"/>
<path d="M93.9,474.8L103.1,473.3L135.0,471.8L178.1,470.2L181.0,478.0L181.0,492.0L178.1,488.7L135.0,489.5L103.1,485.6L93.9,482.5Z" fill="#f7832c"/>
<path d="M103.1,475.6L118.5,474.1L135.0,473.8L178.1,473.3L181.0,478.0L181.5,494.0L177.0,494.0L176.6,485.0L135.0,483.3L118.5,482.5L103.1,481.8Z" fill="#ea552a"/>
<path d="M112.0,476.2L135.0,475.0L178.1,474.6L180.0,483.5L135.0,482.0L112.0,481.0Z" fill="#e03e2c"/>
<path d="M121.6,476.2L135.0,475.6L178.1,475.4L179.0,481.0L135.0,481.0L121.6,480.4Z" fill="#d02a2a"/>
<path d="M229.4,415.9L237.2,414.1L258.5,414.1L261.9,417.0L259.6,420.4L258.5,430.5L237.2,431.2L233.9,422.6L229.4,422.6Z" fill="#fecb62"/>
<path d="M238.0,418.5L256.0,418.0L257.0,429.0L238.5,429.5Z" fill="#fbb443"/>
<path d="M196.9,424.9L202.5,423.8L209.2,422.6L215.9,422.2L222.6,420.4L229.4,419.3L233.9,418.6L236.5,420.9L231.6,424.2L224.9,427.6L218.2,429.8L211.4,432.1L204.7,434.3L196.9,435.4Z" fill="#fecb62"/>
<path d="M215.9,437.2L220.4,437.2L220.4,440.6L215.9,440.6Z" fill="#c6e7f9"/>
<path d="M200.2,439.0L203.6,439.0L203.6,441.7L200.2,441.7Z" fill="#c6e7f9"/>
<path d="M249.5,406.9L272.0,406.1L272.0,407.9L249.5,408.7Z" fill="#2e6cb8"/>
<path d="M196.9,455.1L207.0,454.7L215.9,453.6L222.6,451.3L229.4,449.1L236.1,446.9L241.0,445.5L240.1,450.7L233.9,453.4L227.1,455.6L220.4,457.8L213.7,459.0L207.0,460.1L200.2,461.2L196.9,461.2Z" fill="#fecb62"/>
<path d="M231.6,466.3L237.2,466.3L237.2,471.9L231.6,471.9Z" fill="#fecb62"/>
<path d="M242.4,478.7L249.5,476.0L256.3,476.0L260.1,479.8L261.2,485.4L260.1,491.0L256.3,492.6L251.8,490.3L246.2,487.0L242.4,483.2Z" fill="#fecb62"/>
<path d="M215.5,489.4L224.9,487.2L233.9,488.3L242.8,490.5L251.8,492.8L256.7,496.6L255.6,503.8L242.8,504.9L227.1,503.8L215.5,503.8L213.2,496.6Z" fill="#fecb62"/>
<path d="M220.4,491.0L231.6,489.9L242.8,492.1L251.8,495.5L252.9,502.2L240.6,502.9L222.6,502.2L218.2,496.6Z" fill="#fbb443"/>
<path d="M251.8,440.6L260.7,440.6L260.7,445.1L251.8,445.1Z" fill="#fecb62"/>
<path d="M262.0,414.0L269.0,413.5L269.0,417.4L262.0,417.4Z" fill="#fecb62"/>
<path d="M276.0,410.6L287.0,410.4L287.2,413.2L276.0,413.2Z" fill="#fecb62"/>
<path d="M285.8,414.6L294.2,414.6L294.2,417.4L285.8,417.4Z" fill="#fecb62"/>
<path d="M292.8,412.5L298.4,412.5L298.4,415.3L292.8,415.3Z" fill="#fecb62"/>
<path d="M287.2,409.7L295.6,409.7L295.6,411.4L287.2,411.4Z" fill="#c6e7f9"/>
<path d="M286.0,474.2L290.4,469.7L297.2,465.2L301.6,459.6L305.0,458.5L308.4,463.0L312.9,469.7L316.2,471.9L320.7,465.2L325.2,461.9L330.8,463.0L333.0,469.7L334.1,475.3L336.4,480.9L339.7,487.6L344.2,492.1L348.7,496.6L346.5,503.8L333.0,504.9L321.8,504.9L310.6,504.2L299.4,503.8L290.4,503.8L283.7,503.8L282.6,496.6L284.8,483.2Z" fill="#fecb62"/>
<path d="M342.0,461.9L348.7,459.6L357.0,458.1L357.0,485.4L348.7,484.3L343.1,478.7L340.9,471.9Z" fill="#fecb62"/>
<path d="M288.2,483.2L292.7,474.2L299.4,467.5L308.4,469.7L315.1,475.3L321.8,469.7L328.5,469.7L330.8,478.7L328.5,487.6L321.8,496.6L310.6,498.8L297.2,498.4L289.3,494.4Z" fill="#fbb443"/>
<path d="M310.6,491.7L328.5,491.7L328.5,496.6L310.6,496.6Z" fill="#f99b33"/>
<path d="M88.4,493.2L118.0,492.6L118.0,503.3L89.5,503.3Z" fill="url(#dots2)"/>
<path d="M96.0,435.5L113.0,436.0L114.0,443.0L106.0,448.0L96.0,448.0L95.0,441.0Z" fill="url(#dots2)"/>
<path d="M60.0,466.5L82.0,467.0L88.0,470.0L86.0,474.0L77.0,477.0L75.0,479.5L66.0,479.5L57.0,475.0L56.0,471.0Z" fill="url(#dots2)"/>
<path d="M131.0,432.0L133.5,436.0L135.8,440.5L138.5,445.0L141.8,449.8L145.0,454.5L148.5,458.3L152.5,461.3L157.0,463.5L160.0,462.0L155.0,458.0L150.0,453.0L146.0,447.0L142.0,441.0L139.0,436.0L135.0,431.0Z" fill="url(#dots2)"/>
<path d="M184.1,454.0L198.0,454.0L198.0,459.6L184.1,459.6Z" fill="url(#dots2)"/>
<path d="M91.0,474.6L103.1,472.0L118.5,470.0L135.0,469.0L165.8,466.5L178.1,466.5L183.0,470.0L184.0,497.0L187.0,501.0L179.7,495.5L175.0,491.0L135.0,492.0L110.8,490.0L95.4,484.4L91.0,482.0Z" fill="url(#dots2)"/>
<path d="M237.0,417.5L258.0,417.5L258.0,429.0L237.0,429.0Z" fill="url(#dots2)"/>
<path d="M218.2,450.7L236.1,447.7L239.5,450.0L233.9,453.6L220.4,455.8L211.4,459.0L200.2,460.7L196.9,460.7L196.9,455.8L211.4,455.1Z" fill="url(#dots2)"/>
<path d="M243.9,478.2L256.3,476.9L260.3,480.9L260.7,490.3L252.9,489.9L245.1,485.4Z" fill="url(#dots2)"/>
<path d="M215.9,489.9L231.6,488.1L251.8,493.2L255.8,497.7L255.1,503.3L215.9,503.3Z" fill="url(#dots2)"/>
<path d="M284.8,483.2L288.2,471.9L297.2,465.2L303.9,459.6L310.6,465.2L315.1,471.9L321.8,466.3L330.8,466.3L333.0,475.3L328.5,487.6L335.3,494.4L335.3,503.3L286.0,503.3Z" fill="url(#dots2)"/>
<path d="M342.0,463.0L357.0,459.6L357.0,483.2L344.2,480.9Z" fill="url(#dots2)"/>
<path d="M321.8,466.9L326.0,464.0L330.8,464.6L335.3,469.1L344.2,478.1L350.9,484.8L353.2,493.8L344.2,498.3L333.0,496.0L326.3,489.3L324.1,480.3Z" fill="#ffffff"/>
<path d="M343.0,500.0L350.0,497.0L354.6,496.0L354.6,505.4L343.0,505.4Z" fill="#ffffff"/>
<path d="M299.5,457.5L308.0,457.5L309.0,463.0L303.0,466.0L299.5,464.0Z" fill="#ffffff"/>
<path d="M280.0,499.5L293.0,498.5L296.0,505.4L280.0,505.4Z" fill="#ffffff"/>
<path d="M82.89,404.7a1.05,1.05 0 1,0 2.1,0a1.05,1.05 0 1,0 -2.1,0M88.04,404.7a1.05,1.05 0 1,0 2.1,0a1.05,1.05 0 1,0 -2.1,0M93.20,404.7a1.05,1.05 0 1,0 2.1,0a1.05,1.05 0 1,0 -2.1,0M98.35,404.7a1.05,1.05 0 1,0 2.1,0a1.05,1.05 0 1,0 -2.1,0M103.50,404.7a1.05,1.05 0 1,0 2.1,0a1.05,1.05 0 1,0 -2.1,0M91.85,414.8a1.05,1.05 0 1,0 2.1,0a1.05,1.05 0 1,0 -2.1,0M62.95,431.4a1.05,1.05 0 1,0 2.1,0a1.05,1.05 0 1,0 -2.1,0M65.55,436.0a1.05,1.05 0 1,0 2.1,0a1.05,1.05 0 1,0 -2.1,0M60.45,456.6a1.05,1.05 0 1,0 2.1,0a1.05,1.05 0 1,0 -2.1,0M43.95,463.0a1.05,1.05 0 1,0 2.1,0a1.05,1.05 0 1,0 -2.1,0M108.45,404.7a1.05,1.05 0 1,0 2.1,0a1.05,1.05 0 1,0 -2.1,0M113.55,404.7a1.05,1.05 0 1,0 2.1,0a1.05,1.05 0 1,0 -2.1,0M118.75,404.7a1.05,1.05 0 1,0 2.1,0a1.05,1.05 0 1,0 -2.1,0M118.07,414.8a1.05,1.05 0 1,0 2.1,0a1.05,1.05 0 1,0 -2.1,0M123.22,414.8a1.05,1.05 0 1,0 2.1,0a1.05,1.05 0 1,0 -2.1,0M128.38,414.8a1.05,1.05 0 1,0 2.1,0a1.05,1.05 0 1,0 -2.1,0M133.53,414.8a1.05,1.05 0 1,0 2.1,0a1.05,1.05 0 1,0 -2.1,0M138.69,414.8a1.05,1.05 0 1,0 2.1,0a1.05,1.05 0 1,0 -2.1,0M211.52,430.5a1.05,1.05 0 1,0 2.1,0a1.05,1.05 0 1,0 -2.1,0M217.12,426.0a1.05,1.05 0 1,0 2.1,0a1.05,1.05 0 1,0 -2.1,0M295.25,410.4a1.05,1.05 0 1,0 2.1,0a1.05,1.05 0 1,0 -2.1,0" fill="#000"/>
<use href="#land" transform="translate(39.3,400.1)"/>
</g>
<rect x="39.3" y="400.1" width="315.3" height="104.8" fill="none" stroke="#000" stroke-width="1.5"/>
<rect x="236.1" y="413.2" width="22.4" height="18.0" fill="none" stroke="#e3151b" stroke-width="1.8"/>
<text x="219.0" y="428.8" class="lb">E</text>
<line x1="32.5" y1="400.1" x2="39.3" y2="400.1" stroke="#000" stroke-width="1.1"/>
<line x1="35.9" y1="406.7" x2="39.3" y2="406.7" stroke="#000" stroke-width="0.9"/>
<line x1="35.9" y1="413.2" x2="39.3" y2="413.2" stroke="#000" stroke-width="0.9"/>
<line x1="35.9" y1="419.8" x2="39.3" y2="419.8" stroke="#000" stroke-width="0.9"/>
<line x1="32.5" y1="426.3" x2="39.3" y2="426.3" stroke="#000" stroke-width="1.1"/>
<line x1="35.9" y1="432.9" x2="39.3" y2="432.9" stroke="#000" stroke-width="0.9"/>
<line x1="35.9" y1="439.4" x2="39.3" y2="439.4" stroke="#000" stroke-width="0.9"/>
<line x1="35.9" y1="446.0" x2="39.3" y2="446.0" stroke="#000" stroke-width="0.9"/>
<line x1="32.5" y1="452.5" x2="39.3" y2="452.5" stroke="#000" stroke-width="1.1"/>
<line x1="35.9" y1="459.1" x2="39.3" y2="459.1" stroke="#000" stroke-width="0.9"/>
<line x1="35.9" y1="465.6" x2="39.3" y2="465.6" stroke="#000" stroke-width="0.9"/>
<line x1="35.9" y1="472.2" x2="39.3" y2="472.2" stroke="#000" stroke-width="0.9"/>
<line x1="32.5" y1="478.7" x2="39.3" y2="478.7" stroke="#000" stroke-width="1.1"/>
<line x1="35.9" y1="485.2" x2="39.3" y2="485.2" stroke="#000" stroke-width="0.9"/>
<line x1="35.9" y1="491.8" x2="39.3" y2="491.8" stroke="#000" stroke-width="0.9"/>
<line x1="35.9" y1="498.4" x2="39.3" y2="498.4" stroke="#000" stroke-width="0.9"/>
<line x1="32.5" y1="504.9" x2="39.3" y2="504.9" stroke="#000" stroke-width="1.1"/>
<line x1="39.3" y1="504.9" x2="39.3" y2="510.8" stroke="#000" stroke-width="1.1"/>
<line x1="52.4" y1="504.9" x2="52.4" y2="507.8" stroke="#000" stroke-width="0.9"/>
<line x1="65.6" y1="504.9" x2="65.6" y2="507.8" stroke="#000" stroke-width="0.9"/>
<line x1="78.7" y1="504.9" x2="78.7" y2="507.8" stroke="#000" stroke-width="0.9"/>
<line x1="91.8" y1="504.9" x2="91.8" y2="510.8" stroke="#000" stroke-width="1.1"/>
<line x1="105.0" y1="504.9" x2="105.0" y2="507.8" stroke="#000" stroke-width="0.9"/>
<line x1="118.1" y1="504.9" x2="118.1" y2="507.8" stroke="#000" stroke-width="0.9"/>
<line x1="131.3" y1="504.9" x2="131.3" y2="507.8" stroke="#000" stroke-width="0.9"/>
<line x1="144.4" y1="504.9" x2="144.4" y2="510.8" stroke="#000" stroke-width="1.1"/>
<line x1="157.5" y1="504.9" x2="157.5" y2="507.8" stroke="#000" stroke-width="0.9"/>
<line x1="170.7" y1="504.9" x2="170.7" y2="507.8" stroke="#000" stroke-width="0.9"/>
<line x1="183.8" y1="504.9" x2="183.8" y2="507.8" stroke="#000" stroke-width="0.9"/>
<line x1="196.9" y1="504.9" x2="196.9" y2="510.8" stroke="#000" stroke-width="1.1"/>
<line x1="210.1" y1="504.9" x2="210.1" y2="507.8" stroke="#000" stroke-width="0.9"/>
<line x1="223.2" y1="504.9" x2="223.2" y2="507.8" stroke="#000" stroke-width="0.9"/>
<line x1="236.4" y1="504.9" x2="236.4" y2="507.8" stroke="#000" stroke-width="0.9"/>
<line x1="249.5" y1="504.9" x2="249.5" y2="510.8" stroke="#000" stroke-width="1.1"/>
<line x1="262.6" y1="504.9" x2="262.6" y2="507.8" stroke="#000" stroke-width="0.9"/>
<line x1="275.8" y1="504.9" x2="275.8" y2="507.8" stroke="#000" stroke-width="0.9"/>
<line x1="288.9" y1="504.9" x2="288.9" y2="507.8" stroke="#000" stroke-width="0.9"/>
<line x1="302.1" y1="504.9" x2="302.1" y2="510.8" stroke="#000" stroke-width="1.1"/>
<line x1="315.2" y1="504.9" x2="315.2" y2="507.8" stroke="#000" stroke-width="0.9"/>
<line x1="328.3" y1="504.9" x2="328.3" y2="507.8" stroke="#000" stroke-width="0.9"/>
<line x1="341.5" y1="504.9" x2="341.5" y2="507.8" stroke="#000" stroke-width="0.9"/>
<line x1="354.6" y1="504.9" x2="354.6" y2="510.8" stroke="#000" stroke-width="1.1"/>
<text x="28.6" y="405.3" text-anchor="end" class="ax">90°N</text>
<text x="28.6" y="431.5" text-anchor="end" class="ax">60°N</text>
<text x="28.6" y="457.7" text-anchor="end" class="ax">30°N</text>
<text x="28.6" y="483.9" text-anchor="end" class="ax">0°</text>
<text x="28.6" y="510.1" text-anchor="end" class="ax">30°S</text>
<text x="91.8" y="525.5" text-anchor="middle" class="ax">180°</text>
<text x="144.4" y="525.5" text-anchor="middle" class="ax">120°W</text>
<text x="196.9" y="525.5" text-anchor="middle" class="ax">60°W</text>
<text x="249.5" y="525.5" text-anchor="middle" class="ax">0°</text>
<text x="302.1" y="525.5" text-anchor="middle" class="ax">60°E</text>
<text x="39.3" y="390.4" class="tt">c) NEA_SST Jan</text>
<rect x="91.10" y="547.3" width="10.87" height="18.70" fill="#1e3f8c"/>
<rect x="101.66" y="547.3" width="10.87" height="18.70" fill="#2453a3"/>
<rect x="112.23" y="547.3" width="10.87" height="18.70" fill="#2e6cb8"/>
<rect x="122.79" y="547.3" width="10.87" height="18.70" fill="#3d85c8"/>
<rect x="133.36" y="547.3" width="10.87" height="18.70" fill="#4e9bd5"/>
<rect x="143.92" y="547.3" width="10.87" height="18.70" fill="#6aafe1"/>
<rect x="154.49" y="547.3" width="10.87" height="18.70" fill="#8cc6ed"/>
<rect x="165.06" y="547.3" width="10.87" height="18.70" fill="#abd8f4"/>
<rect x="175.62" y="547.3" width="10.87" height="18.70" fill="#c6e7f9"/>
<rect x="186.19" y="547.3" width="10.87" height="18.70" fill="#ffffff"/>
<rect x="196.75" y="547.3" width="10.87" height="18.70" fill="#ffffff"/>
<rect x="207.31" y="547.3" width="10.87" height="18.70" fill="#fecb62"/>
<rect x="217.88" y="547.3" width="10.87" height="18.70" fill="#fbb443"/>
<rect x="228.44" y="547.3" width="10.87" height="18.70" fill="#f99b33"/>
<rect x="239.01" y="547.3" width="10.87" height="18.70" fill="#f7832c"/>
<rect x="249.57" y="547.3" width="10.87" height="18.70" fill="#f16d28"/>
<rect x="260.14" y="547.3" width="10.87" height="18.70" fill="#ea552a"/>
<rect x="270.70" y="547.3" width="10.87" height="18.70" fill="#e03e2c"/>
<rect x="281.27" y="547.3" width="10.87" height="18.70" fill="#d3262c"/>
<rect x="291.83" y="547.3" width="10.87" height="18.70" fill="#c11f2a"/>
<path d="M91.1,547.3L70.3,556.6L91.1,566.0Z" fill="#213f88"/>
<path d="M302.4,547.3L323.6,556.6L302.4,566.0Z" fill="#ad1c25"/>
<path d="M91.1,547.3L302.4,547.3L323.6,556.6L302.4,566.0L91.1,566.0L70.3,556.6Z" fill="none" stroke="#000" stroke-width="1"/>
<line x1="91.1" y1="566.0" x2="91.1" y2="572.6" stroke="#000" stroke-width="1"/>
<text x="91.1" y="585.5" text-anchor="middle" class="cb">−2</text>
<line x1="133.4" y1="566.0" x2="133.4" y2="572.6" stroke="#000" stroke-width="1"/>
<text x="133.4" y="585.5" text-anchor="middle" class="cb">−1.2</text>
<line x1="175.6" y1="566.0" x2="175.6" y2="572.6" stroke="#000" stroke-width="1"/>
<text x="175.6" y="585.5" text-anchor="middle" class="cb">−0.4</text>
<line x1="217.9" y1="566.0" x2="217.9" y2="572.6" stroke="#000" stroke-width="1"/>
<text x="217.9" y="585.5" text-anchor="middle" class="cb">0.4</text>
<line x1="260.1" y1="566.0" x2="260.1" y2="572.6" stroke="#000" stroke-width="1"/>
<text x="260.1" y="585.5" text-anchor="middle" class="cb">1.2</text>
<line x1="302.4" y1="566.0" x2="302.4" y2="572.6" stroke="#000" stroke-width="1"/>
<text x="302.4" y="585.5" text-anchor="middle" class="cb">2</text>

</svg>
</body></html>
